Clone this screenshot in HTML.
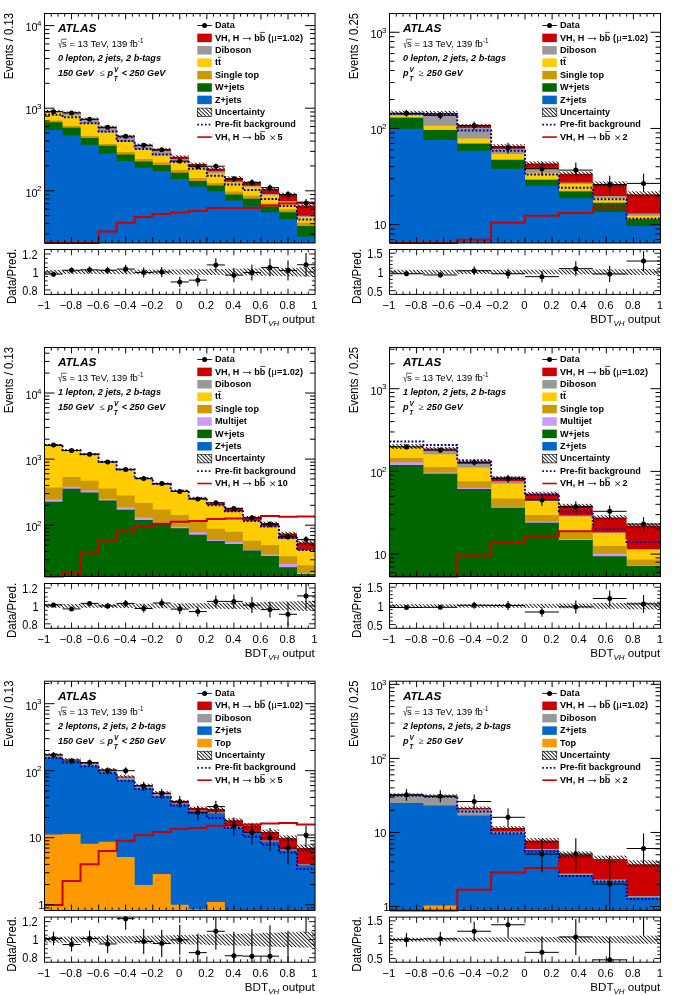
<!DOCTYPE html>
<html lang="en"><head><meta charset="utf-8"><title>ATLAS VH(bb) BDT output distributions</title>
<style>html,body{margin:0;padding:0;background:#fff}svg{display:block}text{font-family:"Liberation Sans",sans-serif}</style>
</head><body>
<svg width="685" height="995" viewBox="0 0 685 995">
<defs><pattern id="hatch" patternUnits="userSpaceOnUse" width="2.7" height="2.7" patternTransform="rotate(45)"><rect width="2.7" height="2.7" fill="none"/><line x1="0" y1="1.35" x2="2.7" y2="1.35" stroke="#000" stroke-width="0.85"/></pattern></defs>
<rect width="685" height="995" fill="#fff"/>
<clipPath id="c0_0"><rect x="44.5" y="13.5" width="270.55" height="229.5"/></clipPath>
<clipPath id="c0_0r"><rect x="44.5" y="249.5" width="270.55" height="44.9"/></clipPath>
<g clip-path="url(#c0_0)">
<path d="M44.5 243 L44.5 111 L62.54 111 L62.54 112.6 L80.57 112.6 L80.57 118.9 L98.61 118.9 L98.61 127 L116.65 127 L116.65 136.4 L134.68 136.4 L134.68 145 L152.72 145 L152.72 149.6 L170.76 149.6 L170.76 156.8 L188.79 156.8 L188.79 164 L206.83 164 L206.83 168.7 L224.87 168.7 L224.87 177.9 L242.9 177.9 L242.9 183 L260.94 183 L260.94 189.1 L278.98 189.1 L278.98 194.6 L297.01 194.6 L297.01 205.5 L315.05 205.5 L315.05 243Z" fill="#cc0000" />
<path d="M44.5 243 L44.5 111.4 L62.54 111.4 L62.54 113 L80.57 113 L80.57 119.5 L98.61 119.5 L98.61 128.2 L116.65 128.2 L116.65 137.4 L134.68 137.4 L134.68 146 L152.72 146 L152.72 150.8 L170.76 150.8 L170.76 159 L188.79 159 L188.79 166 L206.83 166 L206.83 171.2 L224.87 171.2 L224.87 181.4 L242.9 181.4 L242.9 185.8 L260.94 185.8 L260.94 194.1 L278.98 194.1 L278.98 201.1 L297.01 201.1 L297.01 215.7 L315.05 215.7 L315.05 243Z" fill="#999999" />
<path d="M44.5 243 L44.5 112.3 L62.54 112.3 L62.54 115.4 L80.57 115.4 L80.57 124.1 L98.61 124.1 L98.61 132.5 L116.65 132.5 L116.65 142.1 L134.68 142.1 L134.68 149.3 L152.72 149.3 L152.72 155.4 L170.76 155.4 L170.76 161.6 L188.79 161.6 L188.79 167.6 L206.83 167.6 L206.83 173.3 L224.87 173.3 L224.87 182.4 L242.9 182.4 L242.9 186.8 L260.94 186.8 L260.94 195.3 L278.98 195.3 L278.98 202.6 L297.01 202.6 L297.01 216.9 L315.05 216.9 L315.05 243Z" fill="#ffcc00" />
<path d="M44.5 243 L44.5 120.5 L62.54 120.5 L62.54 126.1 L80.57 126.1 L80.57 136 L98.61 136 L98.61 143.9 L116.65 143.9 L116.65 151.9 L134.68 151.9 L134.68 159.1 L152.72 159.1 L152.72 162.6 L170.76 162.6 L170.76 170.1 L188.79 170.1 L188.79 177.9 L206.83 177.9 L206.83 183 L224.87 183 L224.87 191.6 L242.9 191.6 L242.9 195.7 L260.94 195.7 L260.94 203.4 L278.98 203.4 L278.98 209.6 L297.01 209.6 L297.01 222.8 L315.05 222.8 L315.05 243Z" fill="#cc9900" />
<path d="M44.5 243 L44.5 122.3 L62.54 122.3 L62.54 127.8 L80.57 127.8 L80.57 138 L98.61 138 L98.61 145.8 L116.65 145.8 L116.65 154.4 L134.68 154.4 L134.68 161.5 L152.72 161.5 L152.72 165 L170.76 165 L170.76 172.8 L188.79 172.8 L188.79 180.9 L206.83 180.9 L206.83 185.6 L224.87 185.6 L224.87 194.6 L242.9 194.6 L242.9 198.7 L260.94 198.7 L260.94 206.5 L278.98 206.5 L278.98 212.2 L297.01 212.2 L297.01 225.9 L315.05 225.9 L315.05 243Z" fill="#006600" />
<path d="M44.5 243 L44.5 129.9 L62.54 129.9 L62.54 135.6 L80.57 135.6 L80.57 144.8 L98.61 144.8 L98.61 153.4 L116.65 153.4 L116.65 160.9 L134.68 160.9 L134.68 167.7 L152.72 167.7 L152.72 171.1 L170.76 171.1 L170.76 178.9 L188.79 178.9 L188.79 186.5 L206.83 186.5 L206.83 191.2 L224.87 191.2 L224.87 200.4 L242.9 200.4 L242.9 206.5 L260.94 206.5 L260.94 212.2 L278.98 212.2 L278.98 219.2 L297.01 219.2 L297.01 236.5 L315.05 236.5 L315.05 243Z" fill="#0066cc" />
<rect x="44.5" y="109.8" width="18.04" height="2.4" fill="url(#hatch)"/>
<rect x="62.54" y="111.4" width="18.04" height="2.4" fill="url(#hatch)"/>
<rect x="80.57" y="117.7" width="18.04" height="2.4" fill="url(#hatch)"/>
<rect x="98.61" y="125.7" width="18.04" height="2.6" fill="url(#hatch)"/>
<rect x="116.65" y="135.1" width="18.04" height="2.6" fill="url(#hatch)"/>
<rect x="134.68" y="143.6" width="18.04" height="2.8" fill="url(#hatch)"/>
<rect x="152.72" y="148.2" width="18.04" height="2.8" fill="url(#hatch)"/>
<rect x="170.76" y="155.3" width="18.04" height="3" fill="url(#hatch)"/>
<rect x="188.79" y="162.5" width="18.04" height="3" fill="url(#hatch)"/>
<rect x="206.83" y="167.1" width="18.04" height="3.2" fill="url(#hatch)"/>
<rect x="224.87" y="176.2" width="18.04" height="3.4" fill="url(#hatch)"/>
<rect x="242.9" y="181.2" width="18.04" height="3.6" fill="url(#hatch)"/>
<rect x="260.94" y="187.2" width="18.04" height="3.8" fill="url(#hatch)"/>
<rect x="278.98" y="192.6" width="18.04" height="4" fill="url(#hatch)"/>
<rect x="297.01" y="203.2" width="18.04" height="4.6" fill="url(#hatch)"/>
<path d="M44.5 114.8 L62.54 114.8 L62.54 117.3 L80.57 117.3 L80.57 123.3 L98.61 123.3 L98.61 131.6 L116.65 131.6 L116.65 141.1 L134.68 141.1 L134.68 148.9 L152.72 148.9 L152.72 154.4 L170.76 154.4 L170.76 162.1 L188.79 162.1 L188.79 168.7 L206.83 168.7 L206.83 175.8 L224.87 175.8 L224.87 184.6 L242.9 184.6 L242.9 190.1 L260.94 190.1 L260.94 198.9 L278.98 198.9 L278.98 205.9 L297.01 205.9 L297.01 219.4 L315.05 219.4" fill="none" stroke="#0000a0" stroke-width="2.0" stroke-linejoin="miter" stroke-linecap="butt" stroke-dasharray="1.9 1.76"/>
</g>
<clipPath id="c0_0s"><rect x="44.5" y="13.5" width="270.55" height="231"/></clipPath>
<g clip-path="url(#c0_0s)">
<path d="M44.5 242.9 L62.54 242.9 L62.54 242.9 L80.57 242.9 L80.57 242.9 L98.61 242.9 L98.61 231.4 L116.65 231.4 L116.65 222.8 L134.68 222.8 L134.68 217.1 L152.72 217.1 L152.72 214.1 L170.76 214.1 L170.76 212.6 L188.79 212.6 L188.79 211 L206.83 211 L206.83 207.9 L224.87 207.9 L224.87 208.1 L242.9 208.1 L242.9 208.1 L260.94 208.1 L260.94 205.5 L278.98 205.5 L278.98 203.4 L297.01 203.4 L297.01 202.4 L315.05 202.4" fill="none" stroke="#cc0000" stroke-width="2.0" stroke-linejoin="miter" stroke-linecap="butt"/>
</g>
<rect x="44.5" y="13.5" width="270.55" height="229.5" fill="none" stroke="#000" stroke-width="1"/>
<text x="37.5" y="196.6" font-size="10.9" text-anchor="end" fill="#000" >10</text>
<text x="41.5" y="191.3" font-size="8.0" text-anchor="end" fill="#000" >2</text>
<text x="37.5" y="114" font-size="10.9" text-anchor="end" fill="#000" >10</text>
<text x="41.5" y="108.7" font-size="8.0" text-anchor="end" fill="#000" >3</text>
<text x="37.5" y="31.4" font-size="10.9" text-anchor="end" fill="#000" >10</text>
<text x="41.5" y="26.1" font-size="8.0" text-anchor="end" fill="#000" >4</text>
<path d="M51.26 243L51.26 239.9M51.26 13.5L51.26 16.6M58.03 243L58.03 239.9M58.03 13.5L58.03 16.6M64.79 243L64.79 239.9M64.79 13.5L64.79 16.6M71.56 243L71.56 237.1M71.56 13.5L71.56 19.4M78.32 243L78.32 239.9M78.32 13.5L78.32 16.6M85.08 243L85.08 239.9M85.08 13.5L85.08 16.6M91.85 243L91.85 239.9M91.85 13.5L91.85 16.6M98.61 243L98.61 237.1M98.61 13.5L98.61 19.4M105.37 243L105.37 239.9M105.37 13.5L105.37 16.6M112.14 243L112.14 239.9M112.14 13.5L112.14 16.6M118.9 243L118.9 239.9M118.9 13.5L118.9 16.6M125.67 243L125.67 237.1M125.67 13.5L125.67 19.4M132.43 243L132.43 239.9M132.43 13.5L132.43 16.6M139.19 243L139.19 239.9M139.19 13.5L139.19 16.6M145.96 243L145.96 239.9M145.96 13.5L145.96 16.6M152.72 243L152.72 237.1M152.72 13.5L152.72 19.4M159.48 243L159.48 239.9M159.48 13.5L159.48 16.6M166.25 243L166.25 239.9M166.25 13.5L166.25 16.6M173.01 243L173.01 239.9M173.01 13.5L173.01 16.6M179.78 243L179.78 237.1M179.78 13.5L179.78 19.4M186.54 243L186.54 239.9M186.54 13.5L186.54 16.6M193.3 243L193.3 239.9M193.3 13.5L193.3 16.6M200.07 243L200.07 239.9M200.07 13.5L200.07 16.6M206.83 243L206.83 237.1M206.83 13.5L206.83 19.4M213.59 243L213.59 239.9M213.59 13.5L213.59 16.6M220.36 243L220.36 239.9M220.36 13.5L220.36 16.6M227.12 243L227.12 239.9M227.12 13.5L227.12 16.6M233.89 243L233.89 237.1M233.89 13.5L233.89 19.4M240.65 243L240.65 239.9M240.65 13.5L240.65 16.6M247.41 243L247.41 239.9M247.41 13.5L247.41 16.6M254.18 243L254.18 239.9M254.18 13.5L254.18 16.6M260.94 243L260.94 237.1M260.94 13.5L260.94 19.4M267.7 243L267.7 239.9M267.7 13.5L267.7 16.6M274.47 243L274.47 239.9M274.47 13.5L274.47 16.6M281.23 243L281.23 239.9M281.23 13.5L281.23 16.6M288 243L288 237.1M288 13.5L288 19.4M294.76 243L294.76 239.9M294.76 13.5L294.76 16.6M301.52 243L301.52 239.9M301.52 13.5L301.52 16.6M308.29 243L308.29 239.9M308.29 13.5L308.29 16.6M44.5 233.99L49.5 233.99M315.05 233.99L310.05 233.99M44.5 223.67L49.5 223.67M315.05 223.67L310.05 223.67M44.5 215.67L49.5 215.67M315.05 215.67L310.05 215.67M44.5 209.12L49.5 209.12M315.05 209.12L310.05 209.12M44.5 203.59L49.5 203.59M315.05 203.59L310.05 203.59M44.5 198.8L49.5 198.8M315.05 198.8L310.05 198.8M44.5 194.58L49.5 194.58M315.05 194.58L310.05 194.58M44.5 190.8L54.5 190.8M315.05 190.8L305.05 190.8M44.5 165.93L49.5 165.93M315.05 165.93L310.05 165.93M44.5 151.39L49.5 151.39M315.05 151.39L310.05 151.39M44.5 141.07L49.5 141.07M315.05 141.07L310.05 141.07M44.5 133.07L49.5 133.07M315.05 133.07L310.05 133.07M44.5 126.52L49.5 126.52M315.05 126.52L310.05 126.52M44.5 120.99L49.5 120.99M315.05 120.99L310.05 120.99M44.5 116.2L49.5 116.2M315.05 116.2L310.05 116.2M44.5 111.98L49.5 111.98M315.05 111.98L310.05 111.98M44.5 108.2L54.5 108.2M315.05 108.2L305.05 108.2M44.5 83.33L49.5 83.33M315.05 83.33L310.05 83.33M44.5 68.79L49.5 68.79M315.05 68.79L310.05 68.79M44.5 58.47L49.5 58.47M315.05 58.47L310.05 58.47M44.5 50.47L49.5 50.47M315.05 50.47L310.05 50.47M44.5 43.92L49.5 43.92M315.05 43.92L310.05 43.92M44.5 38.39L49.5 38.39M315.05 38.39L310.05 38.39M44.5 33.6L49.5 33.6M315.05 33.6L310.05 33.6M44.5 29.38L49.5 29.38M315.05 29.38L310.05 29.38M44.5 25.6L54.5 25.6M315.05 25.6L305.05 25.6" fill="none" stroke="#000" stroke-width="1.0"/>
<g clip-path="url(#c0_0)">
<line x1="44.5" y1="111.7" x2="62.54" y2="111.7" stroke="#000" stroke-width="1.0" />
<line x1="53.52" y1="110.53" x2="53.52" y2="112.91" stroke="#000" stroke-width="1.1" />
<circle cx="53.52" cy="111.7" r="2.5" fill="#000"/>
<line x1="62.54" y1="112.9" x2="80.57" y2="112.9" stroke="#000" stroke-width="1.0" />
<line x1="71.56" y1="111.71" x2="71.56" y2="114.13" stroke="#000" stroke-width="1.1" />
<circle cx="71.56" cy="112.9" r="2.5" fill="#000"/>
<line x1="80.57" y1="119.2" x2="98.61" y2="119.2" stroke="#000" stroke-width="1.0" />
<line x1="89.59" y1="117.9" x2="89.59" y2="120.55" stroke="#000" stroke-width="1.1" />
<circle cx="89.59" cy="119.2" r="2.5" fill="#000"/>
<line x1="98.61" y1="127.2" x2="116.65" y2="127.2" stroke="#000" stroke-width="1.0" />
<line x1="107.63" y1="125.75" x2="107.63" y2="128.71" stroke="#000" stroke-width="1.1" />
<circle cx="107.63" cy="127.2" r="2.5" fill="#000"/>
<line x1="116.65" y1="136.2" x2="134.68" y2="136.2" stroke="#000" stroke-width="1.0" />
<line x1="125.67" y1="134.56" x2="125.67" y2="137.92" stroke="#000" stroke-width="1.1" />
<circle cx="125.67" cy="136.2" r="2.5" fill="#000"/>
<line x1="134.68" y1="145.2" x2="152.72" y2="145.2" stroke="#000" stroke-width="1.0" />
<line x1="143.7" y1="143.35" x2="143.7" y2="147.15" stroke="#000" stroke-width="1.1" />
<circle cx="143.7" cy="145.2" r="2.5" fill="#000"/>
<line x1="152.72" y1="149.7" x2="170.76" y2="149.7" stroke="#000" stroke-width="1.0" />
<line x1="161.74" y1="147.73" x2="161.74" y2="151.78" stroke="#000" stroke-width="1.1" />
<circle cx="161.74" cy="149.7" r="2.5" fill="#000"/>
<line x1="170.76" y1="161.1" x2="188.79" y2="161.1" stroke="#000" stroke-width="1.0" />
<line x1="179.78" y1="158.8" x2="179.78" y2="163.55" stroke="#000" stroke-width="1.1" />
<circle cx="179.78" cy="161.1" r="2.5" fill="#000"/>
<line x1="188.79" y1="166.6" x2="206.83" y2="166.6" stroke="#000" stroke-width="1.0" />
<line x1="197.81" y1="164.13" x2="197.81" y2="169.26" stroke="#000" stroke-width="1.1" />
<circle cx="197.81" cy="166.6" r="2.5" fill="#000"/>
<line x1="206.83" y1="166.2" x2="224.87" y2="166.2" stroke="#000" stroke-width="1.0" />
<line x1="215.85" y1="163.74" x2="215.85" y2="168.84" stroke="#000" stroke-width="1.1" />
<circle cx="215.85" cy="166.2" r="2.5" fill="#000"/>
<line x1="224.87" y1="178.9" x2="242.9" y2="178.9" stroke="#000" stroke-width="1.0" />
<line x1="233.88" y1="175.98" x2="233.88" y2="182.08" stroke="#000" stroke-width="1.1" />
<circle cx="233.88" cy="178.9" r="2.5" fill="#000"/>
<line x1="242.9" y1="182.4" x2="260.94" y2="182.4" stroke="#000" stroke-width="1.0" />
<line x1="251.92" y1="179.34" x2="251.92" y2="185.74" stroke="#000" stroke-width="1.1" />
<circle cx="251.92" cy="182.4" r="2.5" fill="#000"/>
<line x1="260.94" y1="187.7" x2="278.98" y2="187.7" stroke="#000" stroke-width="1.0" />
<line x1="269.96" y1="184.42" x2="269.96" y2="191.31" stroke="#000" stroke-width="1.1" />
<circle cx="269.96" cy="187.7" r="2.5" fill="#000"/>
<line x1="278.98" y1="194.6" x2="297.01" y2="194.6" stroke="#000" stroke-width="1.0" />
<line x1="288" y1="191" x2="288" y2="198.6" stroke="#000" stroke-width="1.1" />
<circle cx="288" cy="194.6" r="2.5" fill="#000"/>
<line x1="297.01" y1="203" x2="315.05" y2="203" stroke="#000" stroke-width="1.0" />
<line x1="306.03" y1="198.98" x2="306.03" y2="207.53" stroke="#000" stroke-width="1.1" />
<circle cx="306.03" cy="203" r="2.5" fill="#000"/>
</g>
<g clip-path="url(#c0_0r)">
<rect x="44.5" y="269.85" width="18.04" height="4.2" fill="url(#hatch)"/>
<rect x="62.54" y="269.85" width="18.04" height="4.2" fill="url(#hatch)"/>
<rect x="80.57" y="269.85" width="18.04" height="4.2" fill="url(#hatch)"/>
<rect x="98.61" y="269.75" width="18.04" height="4.4" fill="url(#hatch)"/>
<rect x="116.65" y="269.65" width="18.04" height="4.6" fill="url(#hatch)"/>
<rect x="134.68" y="269.55" width="18.04" height="4.8" fill="url(#hatch)"/>
<rect x="152.72" y="269.45" width="18.04" height="5" fill="url(#hatch)"/>
<rect x="170.76" y="269.35" width="18.04" height="5.2" fill="url(#hatch)"/>
<rect x="188.79" y="269.15" width="18.04" height="5.6" fill="url(#hatch)"/>
<rect x="206.83" y="268.95" width="18.04" height="6" fill="url(#hatch)"/>
<rect x="224.87" y="268.75" width="18.04" height="6.4" fill="url(#hatch)"/>
<rect x="242.9" y="268.45" width="18.04" height="7" fill="url(#hatch)"/>
<rect x="260.94" y="268.15" width="18.04" height="7.6" fill="url(#hatch)"/>
<rect x="278.98" y="267.75" width="18.04" height="8.4" fill="url(#hatch)"/>
<rect x="297.01" y="267.35" width="18.04" height="9.2" fill="url(#hatch)"/>
<line x1="44.5" y1="274.15" x2="62.54" y2="274.15" stroke="#000" stroke-width="1.0" />
<line x1="53.52" y1="271.65" x2="53.52" y2="276.65" stroke="#000" stroke-width="1.1" />
<line x1="62.54" y1="270.25" x2="80.57" y2="270.25" stroke="#000" stroke-width="1.0" />
<line x1="71.56" y1="267.25" x2="71.56" y2="273.25" stroke="#000" stroke-width="1.1" />
<line x1="80.57" y1="269.85" x2="98.61" y2="269.85" stroke="#000" stroke-width="1.0" />
<line x1="89.59" y1="266.55" x2="89.59" y2="273.15" stroke="#000" stroke-width="1.1" />
<line x1="98.61" y1="270.25" x2="116.65" y2="270.25" stroke="#000" stroke-width="1.0" />
<line x1="107.63" y1="266.75" x2="107.63" y2="273.75" stroke="#000" stroke-width="1.1" />
<line x1="116.65" y1="269.05" x2="134.68" y2="269.05" stroke="#000" stroke-width="1.0" />
<line x1="125.67" y1="264.75" x2="125.67" y2="273.35" stroke="#000" stroke-width="1.1" />
<line x1="134.68" y1="272.55" x2="152.72" y2="272.55" stroke="#000" stroke-width="1.0" />
<line x1="143.7" y1="267.55" x2="143.7" y2="277.55" stroke="#000" stroke-width="1.1" />
<line x1="152.72" y1="271.95" x2="170.76" y2="271.95" stroke="#000" stroke-width="1.0" />
<line x1="161.74" y1="266.95" x2="161.74" y2="276.95" stroke="#000" stroke-width="1.1" />
<line x1="170.76" y1="281.95" x2="188.79" y2="281.95" stroke="#000" stroke-width="1.0" />
<line x1="179.78" y1="276.95" x2="179.78" y2="286.95" stroke="#000" stroke-width="1.1" />
<line x1="188.79" y1="280.15" x2="206.83" y2="280.15" stroke="#000" stroke-width="1.0" />
<line x1="197.81" y1="274.15" x2="197.81" y2="286.15" stroke="#000" stroke-width="1.1" />
<line x1="206.83" y1="264.95" x2="224.87" y2="264.95" stroke="#000" stroke-width="1.0" />
<line x1="215.85" y1="258.35" x2="215.85" y2="271.55" stroke="#000" stroke-width="1.1" />
<line x1="224.87" y1="275.15" x2="242.9" y2="275.15" stroke="#000" stroke-width="1.0" />
<line x1="233.88" y1="267.95" x2="233.88" y2="282.35" stroke="#000" stroke-width="1.1" />
<line x1="242.9" y1="272.55" x2="260.94" y2="272.55" stroke="#000" stroke-width="1.0" />
<line x1="251.92" y1="264.55" x2="251.92" y2="280.55" stroke="#000" stroke-width="1.1" />
<line x1="260.94" y1="267.45" x2="278.98" y2="267.45" stroke="#000" stroke-width="1.0" />
<line x1="269.96" y1="258.75" x2="269.96" y2="276.15" stroke="#000" stroke-width="1.1" />
<line x1="278.98" y1="270.45" x2="297.01" y2="270.45" stroke="#000" stroke-width="1.0" />
<line x1="288" y1="260.45" x2="288" y2="280.45" stroke="#000" stroke-width="1.1" />
<line x1="297.01" y1="264.75" x2="315.05" y2="264.75" stroke="#000" stroke-width="1.0" />
<line x1="306.03" y1="253.05" x2="306.03" y2="276.45" stroke="#000" stroke-width="1.1" />
</g>
<circle cx="53.52" cy="274.15" r="2.5" fill="#000"/>
<circle cx="71.56" cy="270.25" r="2.5" fill="#000"/>
<circle cx="89.59" cy="269.85" r="2.5" fill="#000"/>
<circle cx="107.63" cy="270.25" r="2.5" fill="#000"/>
<circle cx="125.67" cy="269.05" r="2.5" fill="#000"/>
<circle cx="143.7" cy="272.55" r="2.5" fill="#000"/>
<circle cx="161.74" cy="271.95" r="2.5" fill="#000"/>
<circle cx="179.78" cy="281.95" r="2.5" fill="#000"/>
<circle cx="197.81" cy="280.15" r="2.5" fill="#000"/>
<circle cx="215.85" cy="264.95" r="2.5" fill="#000"/>
<circle cx="233.88" cy="275.15" r="2.5" fill="#000"/>
<circle cx="251.92" cy="272.55" r="2.5" fill="#000"/>
<circle cx="269.96" cy="267.45" r="2.5" fill="#000"/>
<circle cx="288" cy="270.45" r="2.5" fill="#000"/>
<circle cx="306.03" cy="264.75" r="2.5" fill="#000"/>
<rect x="44.5" y="249.5" width="270.55" height="44.9" fill="none" stroke="#000" stroke-width="1"/>
<path d="M51.26 294.4L51.26 291.5M51.26 249.5L51.26 252.4M58.03 294.4L58.03 291.5M58.03 249.5L58.03 252.4M64.79 294.4L64.79 291.5M64.79 249.5L64.79 252.4M71.56 294.4L71.56 288.6M71.56 249.5L71.56 255.3M78.32 294.4L78.32 291.5M78.32 249.5L78.32 252.4M85.08 294.4L85.08 291.5M85.08 249.5L85.08 252.4M91.85 294.4L91.85 291.5M91.85 249.5L91.85 252.4M98.61 294.4L98.61 288.6M98.61 249.5L98.61 255.3M105.37 294.4L105.37 291.5M105.37 249.5L105.37 252.4M112.14 294.4L112.14 291.5M112.14 249.5L112.14 252.4M118.9 294.4L118.9 291.5M118.9 249.5L118.9 252.4M125.67 294.4L125.67 288.6M125.67 249.5L125.67 255.3M132.43 294.4L132.43 291.5M132.43 249.5L132.43 252.4M139.19 294.4L139.19 291.5M139.19 249.5L139.19 252.4M145.96 294.4L145.96 291.5M145.96 249.5L145.96 252.4M152.72 294.4L152.72 288.6M152.72 249.5L152.72 255.3M159.48 294.4L159.48 291.5M159.48 249.5L159.48 252.4M166.25 294.4L166.25 291.5M166.25 249.5L166.25 252.4M173.01 294.4L173.01 291.5M173.01 249.5L173.01 252.4M179.78 294.4L179.78 288.6M179.78 249.5L179.78 255.3M186.54 294.4L186.54 291.5M186.54 249.5L186.54 252.4M193.3 294.4L193.3 291.5M193.3 249.5L193.3 252.4M200.07 294.4L200.07 291.5M200.07 249.5L200.07 252.4M206.83 294.4L206.83 288.6M206.83 249.5L206.83 255.3M213.59 294.4L213.59 291.5M213.59 249.5L213.59 252.4M220.36 294.4L220.36 291.5M220.36 249.5L220.36 252.4M227.12 294.4L227.12 291.5M227.12 249.5L227.12 252.4M233.89 294.4L233.89 288.6M233.89 249.5L233.89 255.3M240.65 294.4L240.65 291.5M240.65 249.5L240.65 252.4M247.41 294.4L247.41 291.5M247.41 249.5L247.41 252.4M254.18 294.4L254.18 291.5M254.18 249.5L254.18 252.4M260.94 294.4L260.94 288.6M260.94 249.5L260.94 255.3M267.7 294.4L267.7 291.5M267.7 249.5L267.7 252.4M274.47 294.4L274.47 291.5M274.47 249.5L274.47 252.4M281.23 294.4L281.23 291.5M281.23 249.5L281.23 252.4M288 294.4L288 288.6M288 249.5L288 255.3M294.76 294.4L294.76 291.5M294.76 249.5L294.76 252.4M301.52 294.4L301.52 291.5M301.52 249.5L301.52 252.4M308.29 294.4L308.29 291.5M308.29 249.5L308.29 252.4M44.5 289.91L50.7 289.91M315.05 289.91L308.85 289.91M44.5 285.42L47.7 285.42M315.05 285.42L311.85 285.42M44.5 280.93L47.7 280.93M315.05 280.93L311.85 280.93M44.5 276.44L47.7 276.44M315.05 276.44L311.85 276.44M44.5 271.95L50.7 271.95M315.05 271.95L308.85 271.95M44.5 267.46L47.7 267.46M315.05 267.46L311.85 267.46M44.5 262.97L47.7 262.97M315.05 262.97L311.85 262.97M44.5 258.48L47.7 258.48M315.05 258.48L311.85 258.48M44.5 253.99L50.7 253.99M315.05 253.99L308.85 253.99" fill="none" stroke="#000" stroke-width="0.9"/>
<text transform="translate(37.5 294.91) scale(0.91 1)" font-size="12.0" text-anchor="end">0.8</text>
<text transform="translate(38.5 276.95) scale(0.91 1)" font-size="12.0" text-anchor="end">1</text>
<text transform="translate(37.5 258.99) scale(0.91 1)" font-size="12.0" text-anchor="end">1.2</text>
<text x="43.9" y="309" font-size="11.4" text-anchor="middle" fill="#000" >−1</text>
<text x="70.96" y="309" font-size="11.4" text-anchor="middle" fill="#000" >−0.8</text>
<text x="98.01" y="309" font-size="11.4" text-anchor="middle" fill="#000" >−0.6</text>
<text x="125.07" y="309" font-size="11.4" text-anchor="middle" fill="#000" >−0.4</text>
<text x="152.12" y="309" font-size="11.4" text-anchor="middle" fill="#000" >−0.2</text>
<text x="179.18" y="309" font-size="11.4" text-anchor="middle" fill="#000" >0</text>
<text x="206.23" y="309" font-size="11.4" text-anchor="middle" fill="#000" >0.2</text>
<text x="233.29" y="309" font-size="11.4" text-anchor="middle" fill="#000" >0.4</text>
<text x="260.34" y="309" font-size="11.4" text-anchor="middle" fill="#000" >0.6</text>
<text x="287.39" y="309" font-size="11.4" text-anchor="middle" fill="#000" >0.8</text>
<text x="314.45" y="309" font-size="11.4" text-anchor="middle" fill="#000" >1</text>
<text x="314.85" y="322.7" font-size="11.7" text-anchor="end" fill="#000" >BDT<tspan font-size="7.9" font-style="italic" dy="2.9">VH</tspan><tspan dy="-2.9"> output</tspan></text>
<text transform="translate(13.3 12.8) rotate(-90) scale(0.92 1)" font-size="12.4" text-anchor="end">Events / 0.13</text>
<text transform="translate(16.2 248.9) rotate(-90) scale(0.895 1)" font-size="12.9" text-anchor="end">Data/Pred.</text>
<text x="57.9" y="32.1" font-size="11.8" font-weight="bold" font-style="italic" text-anchor="start" fill="#000" >ATLAS</text>
<text transform="translate(58.3 47.9) scale(0.62 1)" font-size="11.7">√</text>
<line x1="61.8" y1="39.25" x2="66.9" y2="39.25" stroke="#000" stroke-width="0.6" />
<text x="62" y="47.2" font-size="9.5" text-anchor="start" fill="#000" >s = 13 TeV, 139 fb<tspan font-size="6.3" dy="-4.1">-1</tspan></text>
<text x="57.9" y="60.9" font-size="9.1" font-weight="bold" font-style="italic" text-anchor="start" fill="#000" >0 lepton, 2 jets, 2 b-tags</text>
<text x="57.9" y="75.8" font-size="9.1" font-weight="bold" font-style="italic" text-anchor="start" fill="#000" >150 GeV</text>
<text x="99.5" y="75.8" font-size="9.6" text-anchor="start" fill="#000" style="font-family:'Liberation Serif',serif">≤</text>
<text x="121.7" y="75.8" font-size="9.1" font-weight="bold" font-style="italic" text-anchor="start" fill="#000" >&lt;</text>
<text x="129.4" y="75.8" font-size="9.1" font-weight="bold" font-style="italic" text-anchor="start" fill="#000" >250 GeV</text>
<text x="107.4" y="75.8" font-size="9.1" font-weight="bold" font-style="italic" text-anchor="start" fill="#000" >p</text>
<text x="113.9" y="72.4" font-size="6.5" font-weight="bold" font-style="italic" text-anchor="start" fill="#000" >V</text>
<text x="113.7" y="81.2" font-size="6.5" font-weight="bold" font-style="italic" text-anchor="start" fill="#000" >T</text>
<line x1="197.3" y1="25.5" x2="211.8" y2="25.5" stroke="#000" stroke-width="0.9" />
<circle cx="204.55" cy="25.5" r="2.5" fill="#000"/>
<text x="215" y="28.1" font-size="9.1" font-weight="bold" text-anchor="start" fill="#000" >Data</text>
<rect x="197.3" y="33.65" width="14.5" height="8.5" fill="#cc0000"/>
<text x="215" y="40.5" font-size="9.1" font-weight="bold" text-anchor="start" fill="#000" >VH, H</text>
<text x="239.9" y="40.8" font-size="14.2" text-anchor="start" fill="#222" >→</text>
<text x="254.2" y="40.5" font-size="9.1" font-weight="bold" text-anchor="start" fill="#000" >bb</text>
<line x1="260" y1="32.4" x2="265.1" y2="32.4" stroke="#000" stroke-width="0.7" />
<text x="268.1" y="40.5" font-size="9.1" font-weight="bold" text-anchor="start" fill="#000" >(<tspan font-weight="normal" style="font-family:'Liberation Serif',serif" font-size="10.8">μ</tspan>=1.02)</text>
<rect x="197.3" y="46.05" width="14.5" height="8.5" fill="#999999"/>
<text x="215" y="52.9" font-size="9.1" font-weight="bold" text-anchor="start" fill="#000" >Diboson</text>
<rect x="197.3" y="58.45" width="14.5" height="8.5" fill="#ffcc00"/>
<text x="215" y="65.3" font-size="9.1" font-weight="bold" text-anchor="start" fill="#000" >tt</text>
<line x1="218" y1="57.3" x2="221.2" y2="57.3" stroke="#000" stroke-width="0.7" />
<rect x="197.3" y="70.85" width="14.5" height="8.5" fill="#cc9900"/>
<text x="215" y="77.7" font-size="9.1" font-weight="bold" text-anchor="start" fill="#000" >Single top</text>
<rect x="197.3" y="83.25" width="14.5" height="8.5" fill="#006600"/>
<text x="215" y="90.1" font-size="9.1" font-weight="bold" text-anchor="start" fill="#000" >W+jets</text>
<rect x="197.3" y="95.65" width="14.5" height="8.5" fill="#0066cc"/>
<text x="215" y="102.5" font-size="9.1" font-weight="bold" text-anchor="start" fill="#000" >Z+jets</text>
<rect x="197.3" y="108.1" width="14.5" height="8.4" fill="url(#hatch)" stroke="#000" stroke-width="0.6"/>
<text x="215" y="114.9" font-size="9.1" font-weight="bold" text-anchor="start" fill="#000" >Uncertainty</text>
<line x1="197.3" y1="124.7" x2="211.8" y2="124.7" stroke="#0000a0" stroke-width="1.7" stroke-dasharray="1.7 2.1"/>
<text x="215" y="127.3" font-size="9.1" font-weight="bold" text-anchor="start" fill="#000" >Pre-fit background</text>
<line x1="197.3" y1="137.1" x2="211.8" y2="137.1" stroke="#cc0000" stroke-width="1.6" />
<text x="215" y="139.7" font-size="9.1" font-weight="bold" text-anchor="start" fill="#000" >VH, H</text>
<text x="239.9" y="140" font-size="14.2" text-anchor="start" fill="#222" >→</text>
<text x="254.2" y="139.7" font-size="9.1" font-weight="bold" text-anchor="start" fill="#000" >bb</text>
<line x1="260" y1="131.6" x2="265.1" y2="131.6" stroke="#000" stroke-width="0.7" />
<text x="269.1" y="141.5" font-size="13.0" text-anchor="start" fill="#000" style="font-family:'Liberation Serif',serif">×</text>
<text x="277.6" y="139.7" font-size="9.1" font-weight="bold" text-anchor="start" fill="#000" >5</text>
<clipPath id="c345_0"><rect x="389.5" y="13.5" width="271" height="229.5"/></clipPath>
<clipPath id="c345_0r"><rect x="389.5" y="249.5" width="271" height="44.9"/></clipPath>
<g clip-path="url(#c345_0)">
<path d="M389.5 243 L389.5 113 L423.38 113 L423.38 113.2 L457.25 113.2 L457.25 125.9 L491.12 125.9 L491.12 146 L525 146 L525 163.6 L558.88 163.6 L558.88 173.8 L592.75 173.8 L592.75 184 L626.62 184 L626.62 194.3 L660.5 194.3 L660.5 243Z" fill="#cc0000" />
<path d="M389.5 243 L389.5 113.6 L423.38 113.6 L423.38 114.6 L457.25 114.6 L457.25 127.8 L491.12 127.8 L491.12 148.6 L525 148.6 L525 169 L558.88 169 L558.88 182.6 L592.75 182.6 L592.75 195.9 L626.62 195.9 L626.62 213.6 L660.5 213.6 L660.5 243Z" fill="#999999" />
<path d="M389.5 243 L389.5 115 L423.38 115 L423.38 125.7 L457.25 125.7 L457.25 138.4 L491.12 138.4 L491.12 154 L525 154 L525 172.8 L558.88 172.8 L558.88 184 L592.75 184 L592.75 198.3 L626.62 198.3 L626.62 215.7 L660.5 215.7 L660.5 243Z" fill="#ffcc00" />
<path d="M389.5 243 L389.5 117.5 L423.38 117.5 L423.38 129.7 L457.25 129.7 L457.25 143.2 L491.12 143.2 L491.12 159.3 L525 159.3 L525 179 L558.88 179 L558.88 190.8 L592.75 190.8 L592.75 202.2 L626.62 202.2 L626.62 218.8 L660.5 218.8 L660.5 243Z" fill="#cc9900" />
<path d="M389.5 243 L389.5 117.8 L423.38 117.8 L423.38 130 L457.25 130 L457.25 143.7 L491.12 143.7 L491.12 159.9 L525 159.9 L525 179.9 L558.88 179.9 L558.88 191.6 L592.75 191.6 L592.75 202.9 L626.62 202.9 L626.62 219.5 L660.5 219.5 L660.5 243Z" fill="#006600" />
<path d="M389.5 243 L389.5 128.8 L423.38 128.8 L423.38 139.9 L457.25 139.9 L457.25 150.7 L491.12 150.7 L491.12 168.7 L525 168.7 L525 186.1 L558.88 186.1 L558.88 198.3 L592.75 198.3 L592.75 212 L626.62 212 L626.62 225.9 L660.5 225.9 L660.5 243Z" fill="#0066cc" />
<rect x="389.5" y="110.7" width="33.88" height="4.6" fill="url(#hatch)"/>
<rect x="423.38" y="110.9" width="33.88" height="4.6" fill="url(#hatch)"/>
<rect x="457.25" y="124.1" width="33.88" height="3.6" fill="url(#hatch)"/>
<rect x="491.12" y="144.2" width="33.88" height="3.6" fill="url(#hatch)"/>
<rect x="525" y="161.4" width="33.88" height="4.4" fill="url(#hatch)"/>
<rect x="558.88" y="171.4" width="33.88" height="4.8" fill="url(#hatch)"/>
<rect x="592.75" y="181.4" width="33.88" height="5.2" fill="url(#hatch)"/>
<rect x="626.62" y="191.3" width="33.88" height="6" fill="url(#hatch)"/>
<path d="M389.5 114 L423.38 114 L423.38 114 L457.25 114 L457.25 130.5 L491.12 130.5 L491.12 150.7 L525 150.7 L525 174.4 L558.88 174.4 L558.88 187.7 L592.75 187.7 L592.75 199.3 L626.62 199.3 L626.62 218.8 L660.5 218.8" fill="none" stroke="#0000a0" stroke-width="2.0" stroke-linejoin="miter" stroke-linecap="butt" stroke-dasharray="1.9 1.76"/>
</g>
<clipPath id="c345_0s"><rect x="389.5" y="13.5" width="271" height="231"/></clipPath>
<g clip-path="url(#c345_0s)">
<path d="M389.5 242.9 L423.38 242.9 L423.38 242.9 L457.25 242.9 L457.25 239.8 L491.12 239.8 L491.12 222.8 L525 222.8 L525 215.7 L558.88 215.7 L558.88 213 L592.75 213 L592.75 207.5 L626.62 207.5 L626.62 209.8 L660.5 209.8" fill="none" stroke="#cc0000" stroke-width="2.0" stroke-linejoin="miter" stroke-linecap="butt"/>
</g>
<rect x="389.5" y="13.5" width="271" height="229.5" fill="none" stroke="#000" stroke-width="1"/>
<text x="386.4" y="229.25" font-size="11.0" text-anchor="end" fill="#000" >10</text>
<text x="382.5" y="134.25" font-size="10.9" text-anchor="end" fill="#000" >10</text>
<text x="386.5" y="128.95" font-size="8.0" text-anchor="end" fill="#000" >2</text>
<text x="382.5" y="38.05" font-size="10.9" text-anchor="end" fill="#000" >10</text>
<text x="386.5" y="32.75" font-size="8.0" text-anchor="end" fill="#000" >3</text>
<path d="M396.27 243L396.27 239.9M396.27 13.5L396.27 16.6M403.05 243L403.05 239.9M403.05 13.5L403.05 16.6M409.82 243L409.82 239.9M409.82 13.5L409.82 16.6M416.6 243L416.6 237.1M416.6 13.5L416.6 19.4M423.38 243L423.38 239.9M423.38 13.5L423.38 16.6M430.15 243L430.15 239.9M430.15 13.5L430.15 16.6M436.93 243L436.93 239.9M436.93 13.5L436.93 16.6M443.7 243L443.7 237.1M443.7 13.5L443.7 19.4M450.48 243L450.48 239.9M450.48 13.5L450.48 16.6M457.25 243L457.25 239.9M457.25 13.5L457.25 16.6M464.02 243L464.02 239.9M464.02 13.5L464.02 16.6M470.8 243L470.8 237.1M470.8 13.5L470.8 19.4M477.57 243L477.57 239.9M477.57 13.5L477.57 16.6M484.35 243L484.35 239.9M484.35 13.5L484.35 16.6M491.12 243L491.12 239.9M491.12 13.5L491.12 16.6M497.9 243L497.9 237.1M497.9 13.5L497.9 19.4M504.68 243L504.68 239.9M504.68 13.5L504.68 16.6M511.45 243L511.45 239.9M511.45 13.5L511.45 16.6M518.23 243L518.23 239.9M518.23 13.5L518.23 16.6M525 243L525 237.1M525 13.5L525 19.4M531.77 243L531.77 239.9M531.77 13.5L531.77 16.6M538.55 243L538.55 239.9M538.55 13.5L538.55 16.6M545.33 243L545.33 239.9M545.33 13.5L545.33 16.6M552.1 243L552.1 237.1M552.1 13.5L552.1 19.4M558.88 243L558.88 239.9M558.88 13.5L558.88 16.6M565.65 243L565.65 239.9M565.65 13.5L565.65 16.6M572.42 243L572.42 239.9M572.42 13.5L572.42 16.6M579.2 243L579.2 237.1M579.2 13.5L579.2 19.4M585.98 243L585.98 239.9M585.98 13.5L585.98 16.6M592.75 243L592.75 239.9M592.75 13.5L592.75 16.6M599.52 243L599.52 239.9M599.52 13.5L599.52 16.6M606.3 243L606.3 237.1M606.3 13.5L606.3 19.4M613.08 243L613.08 239.9M613.08 13.5L613.08 16.6M619.85 243L619.85 239.9M619.85 13.5L619.85 16.6M626.62 243L626.62 239.9M626.62 13.5L626.62 16.6M633.4 243L633.4 237.1M633.4 13.5L633.4 19.4M640.17 243L640.17 239.9M640.17 13.5L640.17 16.6M646.95 243L646.95 239.9M646.95 13.5L646.95 16.6M653.73 243L653.73 239.9M653.73 13.5L653.73 16.6M389.5 239.55L394.5 239.55M660.5 239.55L655.5 239.55M389.5 233.97L394.5 233.97M660.5 233.97L655.5 233.97M389.5 229.05L394.5 229.05M660.5 229.05L655.5 229.05M389.5 224.65L399.5 224.65M660.5 224.65L650.5 224.65M389.5 195.69L394.5 195.69M660.5 195.69L655.5 195.69M389.5 178.75L394.5 178.75M660.5 178.75L655.5 178.75M389.5 166.73L394.5 166.73M660.5 166.73L655.5 166.73M389.5 157.41L394.5 157.41M660.5 157.41L655.5 157.41M389.5 149.79L394.5 149.79M660.5 149.79L655.5 149.79M389.5 143.35L394.5 143.35M660.5 143.35L655.5 143.35M389.5 137.77L394.5 137.77M660.5 137.77L655.5 137.77M389.5 132.85L394.5 132.85M660.5 132.85L655.5 132.85M389.5 128.45L399.5 128.45M660.5 128.45L650.5 128.45M389.5 99.49L394.5 99.49M660.5 99.49L655.5 99.49M389.5 82.55L394.5 82.55M660.5 82.55L655.5 82.55M389.5 70.53L394.5 70.53M660.5 70.53L655.5 70.53M389.5 61.21L394.5 61.21M660.5 61.21L655.5 61.21M389.5 53.59L394.5 53.59M660.5 53.59L655.5 53.59M389.5 47.15L394.5 47.15M660.5 47.15L655.5 47.15M389.5 41.57L394.5 41.57M660.5 41.57L655.5 41.57M389.5 36.65L394.5 36.65M660.5 36.65L655.5 36.65M389.5 32.25L399.5 32.25M660.5 32.25L650.5 32.25" fill="none" stroke="#000" stroke-width="1.0"/>
<g clip-path="url(#c345_0)">
<line x1="389.5" y1="113.2" x2="423.38" y2="113.2" stroke="#000" stroke-width="1.0" />
<line x1="406.44" y1="109.86" x2="406.44" y2="116.83" stroke="#000" stroke-width="1.1" />
<circle cx="406.44" cy="113.2" r="2.5" fill="#000"/>
<line x1="423.38" y1="115.5" x2="457.25" y2="115.5" stroke="#000" stroke-width="1.0" />
<line x1="440.31" y1="112.07" x2="440.31" y2="119.24" stroke="#000" stroke-width="1.1" />
<circle cx="440.31" cy="115.5" r="2.5" fill="#000"/>
<line x1="457.25" y1="125.4" x2="491.12" y2="125.4" stroke="#000" stroke-width="1.0" />
<line x1="474.19" y1="121.55" x2="474.19" y2="129.64" stroke="#000" stroke-width="1.1" />
<circle cx="474.19" cy="125.4" r="2.5" fill="#000"/>
<line x1="491.12" y1="147.8" x2="525" y2="147.8" stroke="#000" stroke-width="1.0" />
<line x1="508.06" y1="142.84" x2="508.06" y2="153.43" stroke="#000" stroke-width="1.1" />
<circle cx="508.06" cy="147.8" r="2.5" fill="#000"/>
<line x1="525" y1="168.7" x2="558.88" y2="168.7" stroke="#000" stroke-width="1.0" />
<line x1="541.94" y1="162.6" x2="541.94" y2="175.8" stroke="#000" stroke-width="1.1" />
<circle cx="541.94" cy="168.7" r="2.5" fill="#000"/>
<line x1="558.88" y1="170.1" x2="592.75" y2="170.1" stroke="#000" stroke-width="1.0" />
<line x1="575.81" y1="162.6" x2="575.81" y2="176.9" stroke="#000" stroke-width="1.1" />
<circle cx="575.81" cy="170.1" r="2.5" fill="#000"/>
<line x1="592.75" y1="184.6" x2="626.62" y2="184.6" stroke="#000" stroke-width="1.0" />
<line x1="609.69" y1="175.8" x2="609.69" y2="194.2" stroke="#000" stroke-width="1.1" />
<circle cx="609.69" cy="184.6" r="2.5" fill="#000"/>
<line x1="626.62" y1="183.4" x2="660.5" y2="183.4" stroke="#000" stroke-width="1.0" />
<line x1="643.56" y1="173.8" x2="643.56" y2="192.2" stroke="#000" stroke-width="1.1" />
<circle cx="643.56" cy="183.4" r="2.5" fill="#000"/>
</g>
<g clip-path="url(#c345_0r)">
<rect x="389.5" y="269.85" width="33.88" height="4.2" fill="url(#hatch)"/>
<rect x="423.38" y="269.85" width="33.88" height="4.2" fill="url(#hatch)"/>
<rect x="457.25" y="269.85" width="33.88" height="4.2" fill="url(#hatch)"/>
<rect x="491.12" y="269.75" width="33.88" height="4.4" fill="url(#hatch)"/>
<rect x="525" y="269.65" width="33.88" height="4.6" fill="url(#hatch)"/>
<rect x="558.88" y="269.45" width="33.88" height="5" fill="url(#hatch)"/>
<rect x="592.75" y="269.25" width="33.88" height="5.4" fill="url(#hatch)"/>
<rect x="626.62" y="268.95" width="33.88" height="6" fill="url(#hatch)"/>
<line x1="389.5" y1="273.75" x2="423.38" y2="273.75" stroke="#000" stroke-width="1.0" />
<line x1="406.44" y1="271.55" x2="406.44" y2="275.95" stroke="#000" stroke-width="1.1" />
<line x1="423.38" y1="274.95" x2="457.25" y2="274.95" stroke="#000" stroke-width="1.0" />
<line x1="440.31" y1="272.35" x2="440.31" y2="277.55" stroke="#000" stroke-width="1.1" />
<line x1="457.25" y1="270.75" x2="491.12" y2="270.75" stroke="#000" stroke-width="1.0" />
<line x1="474.19" y1="266.45" x2="474.19" y2="275.05" stroke="#000" stroke-width="1.1" />
<line x1="491.12" y1="273.75" x2="525" y2="273.75" stroke="#000" stroke-width="1.0" />
<line x1="508.06" y1="268.75" x2="508.06" y2="278.75" stroke="#000" stroke-width="1.1" />
<line x1="525" y1="276.65" x2="558.88" y2="276.65" stroke="#000" stroke-width="1.0" />
<line x1="541.94" y1="271.05" x2="541.94" y2="282.25" stroke="#000" stroke-width="1.1" />
<line x1="558.88" y1="268.65" x2="592.75" y2="268.65" stroke="#000" stroke-width="1.0" />
<line x1="575.81" y1="261.25" x2="575.81" y2="276.05" stroke="#000" stroke-width="1.1" />
<line x1="592.75" y1="273.95" x2="626.62" y2="273.95" stroke="#000" stroke-width="1.0" />
<line x1="609.69" y1="265.95" x2="609.69" y2="281.95" stroke="#000" stroke-width="1.1" />
<line x1="626.62" y1="261.05" x2="660.5" y2="261.05" stroke="#000" stroke-width="1.0" />
<line x1="643.56" y1="251.05" x2="643.56" y2="271.05" stroke="#000" stroke-width="1.1" />
</g>
<circle cx="406.44" cy="273.75" r="2.5" fill="#000"/>
<circle cx="440.31" cy="274.95" r="2.5" fill="#000"/>
<circle cx="474.19" cy="270.75" r="2.5" fill="#000"/>
<circle cx="508.06" cy="273.75" r="2.5" fill="#000"/>
<circle cx="541.94" cy="276.65" r="2.5" fill="#000"/>
<circle cx="575.81" cy="268.65" r="2.5" fill="#000"/>
<circle cx="609.69" cy="273.95" r="2.5" fill="#000"/>
<circle cx="643.56" cy="261.05" r="2.5" fill="#000"/>
<rect x="389.5" y="249.5" width="271" height="44.9" fill="none" stroke="#000" stroke-width="1"/>
<path d="M396.27 294.4L396.27 291.5M396.27 249.5L396.27 252.4M403.05 294.4L403.05 291.5M403.05 249.5L403.05 252.4M409.82 294.4L409.82 291.5M409.82 249.5L409.82 252.4M416.6 294.4L416.6 288.6M416.6 249.5L416.6 255.3M423.38 294.4L423.38 291.5M423.38 249.5L423.38 252.4M430.15 294.4L430.15 291.5M430.15 249.5L430.15 252.4M436.93 294.4L436.93 291.5M436.93 249.5L436.93 252.4M443.7 294.4L443.7 288.6M443.7 249.5L443.7 255.3M450.48 294.4L450.48 291.5M450.48 249.5L450.48 252.4M457.25 294.4L457.25 291.5M457.25 249.5L457.25 252.4M464.02 294.4L464.02 291.5M464.02 249.5L464.02 252.4M470.8 294.4L470.8 288.6M470.8 249.5L470.8 255.3M477.57 294.4L477.57 291.5M477.57 249.5L477.57 252.4M484.35 294.4L484.35 291.5M484.35 249.5L484.35 252.4M491.12 294.4L491.12 291.5M491.12 249.5L491.12 252.4M497.9 294.4L497.9 288.6M497.9 249.5L497.9 255.3M504.68 294.4L504.68 291.5M504.68 249.5L504.68 252.4M511.45 294.4L511.45 291.5M511.45 249.5L511.45 252.4M518.23 294.4L518.23 291.5M518.23 249.5L518.23 252.4M525 294.4L525 288.6M525 249.5L525 255.3M531.77 294.4L531.77 291.5M531.77 249.5L531.77 252.4M538.55 294.4L538.55 291.5M538.55 249.5L538.55 252.4M545.33 294.4L545.33 291.5M545.33 249.5L545.33 252.4M552.1 294.4L552.1 288.6M552.1 249.5L552.1 255.3M558.88 294.4L558.88 291.5M558.88 249.5L558.88 252.4M565.65 294.4L565.65 291.5M565.65 249.5L565.65 252.4M572.42 294.4L572.42 291.5M572.42 249.5L572.42 252.4M579.2 294.4L579.2 288.6M579.2 249.5L579.2 255.3M585.98 294.4L585.98 291.5M585.98 249.5L585.98 252.4M592.75 294.4L592.75 291.5M592.75 249.5L592.75 252.4M599.52 294.4L599.52 291.5M599.52 249.5L599.52 252.4M606.3 294.4L606.3 288.6M606.3 249.5L606.3 255.3M613.08 294.4L613.08 291.5M613.08 249.5L613.08 252.4M619.85 294.4L619.85 291.5M619.85 249.5L619.85 252.4M626.62 294.4L626.62 291.5M626.62 249.5L626.62 252.4M633.4 294.4L633.4 288.6M633.4 249.5L633.4 255.3M640.17 294.4L640.17 291.5M640.17 249.5L640.17 252.4M646.95 294.4L646.95 291.5M646.95 249.5L646.95 252.4M653.73 294.4L653.73 291.5M653.73 249.5L653.73 252.4M389.5 290.66L395.7 290.66M660.5 290.66L654.3 290.66M389.5 286.92L392.7 286.92M660.5 286.92L657.3 286.92M389.5 283.17L392.7 283.17M660.5 283.17L657.3 283.17M389.5 279.43L392.7 279.43M660.5 279.43L657.3 279.43M389.5 275.69L392.7 275.69M660.5 275.69L657.3 275.69M389.5 271.95L395.7 271.95M660.5 271.95L654.3 271.95M389.5 268.21L392.7 268.21M660.5 268.21L657.3 268.21M389.5 264.47L392.7 264.47M660.5 264.47L657.3 264.47M389.5 260.73L392.7 260.73M660.5 260.73L657.3 260.73M389.5 256.98L392.7 256.98M660.5 256.98L657.3 256.98M389.5 253.24L395.7 253.24M660.5 253.24L654.3 253.24" fill="none" stroke="#000" stroke-width="0.9"/>
<text transform="translate(382.5 295.66) scale(0.91 1)" font-size="12.0" text-anchor="end">0.5</text>
<text transform="translate(383.5 276.95) scale(0.91 1)" font-size="12.0" text-anchor="end">1</text>
<text transform="translate(382.5 258.24) scale(0.91 1)" font-size="12.0" text-anchor="end">1.5</text>
<text x="388.9" y="309" font-size="11.4" text-anchor="middle" fill="#000" >−1</text>
<text x="416" y="309" font-size="11.4" text-anchor="middle" fill="#000" >−0.8</text>
<text x="443.1" y="309" font-size="11.4" text-anchor="middle" fill="#000" >−0.6</text>
<text x="470.2" y="309" font-size="11.4" text-anchor="middle" fill="#000" >−0.4</text>
<text x="497.3" y="309" font-size="11.4" text-anchor="middle" fill="#000" >−0.2</text>
<text x="524.4" y="309" font-size="11.4" text-anchor="middle" fill="#000" >0</text>
<text x="551.5" y="309" font-size="11.4" text-anchor="middle" fill="#000" >0.2</text>
<text x="578.6" y="309" font-size="11.4" text-anchor="middle" fill="#000" >0.4</text>
<text x="605.7" y="309" font-size="11.4" text-anchor="middle" fill="#000" >0.6</text>
<text x="632.8" y="309" font-size="11.4" text-anchor="middle" fill="#000" >0.8</text>
<text x="659.9" y="309" font-size="11.4" text-anchor="middle" fill="#000" >1</text>
<text x="660.3" y="322.7" font-size="11.7" text-anchor="end" fill="#000" >BDT<tspan font-size="7.9" font-style="italic" dy="2.9">VH</tspan><tspan dy="-2.9"> output</tspan></text>
<text transform="translate(358.3 12.8) rotate(-90) scale(0.92 1)" font-size="12.4" text-anchor="end">Events / 0.25</text>
<text transform="translate(361.2 248.9) rotate(-90) scale(0.895 1)" font-size="12.9" text-anchor="end">Data/Pred.</text>
<text x="402.9" y="32.1" font-size="11.8" font-weight="bold" font-style="italic" text-anchor="start" fill="#000" >ATLAS</text>
<text transform="translate(403.3 47.9) scale(0.62 1)" font-size="11.7">√</text>
<line x1="406.8" y1="39.25" x2="411.9" y2="39.25" stroke="#000" stroke-width="0.6" />
<text x="407" y="47.2" font-size="9.5" text-anchor="start" fill="#000" >s = 13 TeV, 139 fb<tspan font-size="6.3" dy="-4.1">-1</tspan></text>
<text x="402.9" y="60.9" font-size="9.1" font-weight="bold" font-style="italic" text-anchor="start" fill="#000" >0 lepton, 2 jets, 2 b-tags</text>
<text x="418.5" y="75.8" font-size="9.6" text-anchor="start" fill="#000" style="font-family:'Liberation Serif',serif">≥</text>
<text x="426.8" y="75.8" font-size="9.1" font-weight="bold" font-style="italic" text-anchor="start" fill="#000" >250 GeV</text>
<text x="402.9" y="75.8" font-size="9.1" font-weight="bold" font-style="italic" text-anchor="start" fill="#000" >p</text>
<text x="409.4" y="72.4" font-size="6.5" font-weight="bold" font-style="italic" text-anchor="start" fill="#000" >V</text>
<text x="409.2" y="81.2" font-size="6.5" font-weight="bold" font-style="italic" text-anchor="start" fill="#000" >T</text>
<line x1="542.3" y1="25.5" x2="556.8" y2="25.5" stroke="#000" stroke-width="0.9" />
<circle cx="549.55" cy="25.5" r="2.5" fill="#000"/>
<text x="560" y="28.1" font-size="9.1" font-weight="bold" text-anchor="start" fill="#000" >Data</text>
<rect x="542.3" y="33.65" width="14.5" height="8.5" fill="#cc0000"/>
<text x="560" y="40.5" font-size="9.1" font-weight="bold" text-anchor="start" fill="#000" >VH, H</text>
<text x="584.9" y="40.8" font-size="14.2" text-anchor="start" fill="#222" >→</text>
<text x="599.2" y="40.5" font-size="9.1" font-weight="bold" text-anchor="start" fill="#000" >bb</text>
<line x1="605" y1="32.4" x2="610.1" y2="32.4" stroke="#000" stroke-width="0.7" />
<text x="613.1" y="40.5" font-size="9.1" font-weight="bold" text-anchor="start" fill="#000" >(<tspan font-weight="normal" style="font-family:'Liberation Serif',serif" font-size="10.8">μ</tspan>=1.02)</text>
<rect x="542.3" y="46.05" width="14.5" height="8.5" fill="#999999"/>
<text x="560" y="52.9" font-size="9.1" font-weight="bold" text-anchor="start" fill="#000" >Diboson</text>
<rect x="542.3" y="58.45" width="14.5" height="8.5" fill="#ffcc00"/>
<text x="560" y="65.3" font-size="9.1" font-weight="bold" text-anchor="start" fill="#000" >tt</text>
<line x1="563" y1="57.3" x2="566.2" y2="57.3" stroke="#000" stroke-width="0.7" />
<rect x="542.3" y="70.85" width="14.5" height="8.5" fill="#cc9900"/>
<text x="560" y="77.7" font-size="9.1" font-weight="bold" text-anchor="start" fill="#000" >Single top</text>
<rect x="542.3" y="83.25" width="14.5" height="8.5" fill="#006600"/>
<text x="560" y="90.1" font-size="9.1" font-weight="bold" text-anchor="start" fill="#000" >W+jets</text>
<rect x="542.3" y="95.65" width="14.5" height="8.5" fill="#0066cc"/>
<text x="560" y="102.5" font-size="9.1" font-weight="bold" text-anchor="start" fill="#000" >Z+jets</text>
<rect x="542.3" y="108.1" width="14.5" height="8.4" fill="url(#hatch)" stroke="#000" stroke-width="0.6"/>
<text x="560" y="114.9" font-size="9.1" font-weight="bold" text-anchor="start" fill="#000" >Uncertainty</text>
<line x1="542.3" y1="124.7" x2="556.8" y2="124.7" stroke="#0000a0" stroke-width="1.7" stroke-dasharray="1.7 2.1"/>
<text x="560" y="127.3" font-size="9.1" font-weight="bold" text-anchor="start" fill="#000" >Pre-fit background</text>
<line x1="542.3" y1="137.1" x2="556.8" y2="137.1" stroke="#cc0000" stroke-width="1.6" />
<text x="560" y="139.7" font-size="9.1" font-weight="bold" text-anchor="start" fill="#000" >VH, H</text>
<text x="584.9" y="140" font-size="14.2" text-anchor="start" fill="#222" >→</text>
<text x="599.2" y="139.7" font-size="9.1" font-weight="bold" text-anchor="start" fill="#000" >bb</text>
<line x1="605" y1="131.6" x2="610.1" y2="131.6" stroke="#000" stroke-width="0.7" />
<text x="614.1" y="141.5" font-size="13.0" text-anchor="start" fill="#000" style="font-family:'Liberation Serif',serif">×</text>
<text x="622.6" y="139.7" font-size="9.1" font-weight="bold" text-anchor="start" fill="#000" >2</text>
<clipPath id="c0_334"><rect x="44.5" y="347.5" width="270.55" height="229"/></clipPath>
<clipPath id="c0_334r"><rect x="44.5" y="583.5" width="270.55" height="44.8"/></clipPath>
<g clip-path="url(#c0_334)">
<path d="M44.5 576.5 L44.5 445.1 L62.54 445.1 L62.54 450.2 L80.57 450.2 L80.57 454.2 L98.61 454.2 L98.61 461.8 L116.65 461.8 L116.65 469.4 L134.68 469.4 L134.68 478.2 L152.72 478.2 L152.72 483.7 L170.76 483.7 L170.76 490.8 L188.79 490.8 L188.79 498 L206.83 498 L206.83 503.3 L224.87 503.3 L224.87 508.8 L242.9 508.8 L242.9 517.4 L260.94 517.4 L260.94 523 L278.98 523 L278.98 533.4 L297.01 533.4 L297.01 542.6 L315.05 542.6 L315.05 576.5Z" fill="#cc0000" />
<path d="M44.5 576.5 L44.5 445.5 L62.54 445.5 L62.54 450.6 L80.57 450.6 L80.57 454.6 L98.61 454.6 L98.61 462.2 L116.65 462.2 L116.65 469.9 L134.68 469.9 L134.68 478.7 L152.72 478.7 L152.72 484.3 L170.76 484.3 L170.76 491.5 L188.79 491.5 L188.79 499.1 L206.83 499.1 L206.83 505 L224.87 505 L224.87 511.4 L242.9 511.4 L242.9 520.8 L260.94 520.8 L260.94 526.6 L278.98 526.6 L278.98 538.5 L297.01 538.5 L297.01 550 L315.05 550 L315.05 576.5Z" fill="#999999" />
<path d="M44.5 576.5 L44.5 445.9 L62.54 445.9 L62.54 451 L80.57 451 L80.57 455 L98.61 455 L98.61 462.6 L116.65 462.6 L116.65 470.3 L134.68 470.3 L134.68 479.2 L152.72 479.2 L152.72 484.8 L170.76 484.8 L170.76 492 L188.79 492 L188.79 499.6 L206.83 499.6 L206.83 505.5 L224.87 505.5 L224.87 511.9 L242.9 511.9 L242.9 521.3 L260.94 521.3 L260.94 527.1 L278.98 527.1 L278.98 539 L297.01 539 L297.01 550.5 L315.05 550.5 L315.05 576.5Z" fill="#ffcc00" />
<path d="M44.5 576.5 L44.5 487.4 L62.54 487.4 L62.54 477.1 L80.57 477.1 L80.57 480.8 L98.61 480.8 L98.61 488.4 L116.65 488.4 L116.65 495.5 L134.68 495.5 L134.68 503.1 L152.72 503.1 L152.72 509.4 L170.76 509.4 L170.76 514.9 L188.79 514.9 L188.79 521.7 L206.83 521.7 L206.83 528.8 L224.87 528.8 L224.87 531.7 L242.9 531.7 L242.9 540.8 L260.94 540.8 L260.94 545.1 L278.98 545.1 L278.98 556.3 L297.01 556.3 L297.01 565.3 L315.05 565.3 L315.05 576.5Z" fill="#cc9900" />
<path d="M44.5 576.5 L44.5 499.6 L62.54 499.6 L62.54 486.7 L80.57 486.7 L80.57 490.4 L98.61 490.4 L98.61 499 L116.65 499 L116.65 507.2 L134.68 507.2 L134.68 517.4 L152.72 517.4 L152.72 522.5 L170.76 522.5 L170.76 526.8 L188.79 526.8 L188.79 532.3 L206.83 532.3 L206.83 540 L224.87 540 L224.87 541.9 L242.9 541.9 L242.9 550 L260.94 550 L260.94 554.5 L278.98 554.5 L278.98 563.9 L297.01 563.9 L297.01 572.7 L315.05 572.7 L315.05 576.5Z" fill="#cc99ff" />
<path d="M44.5 576.5 L44.5 501.7 L62.54 501.7 L62.54 488.8 L80.57 488.8 L80.57 492.5 L98.61 492.5 L98.61 500.4 L116.65 500.4 L116.65 509.8 L134.68 509.8 L134.68 520.1 L152.72 520.1 L152.72 523.1 L170.76 523.1 L170.76 528.2 L188.79 528.2 L188.79 534.8 L206.83 534.8 L206.83 540.9 L224.87 540.9 L224.87 544 L242.9 544 L242.9 550.5 L260.94 550.5 L260.94 556 L278.98 556 L278.98 567.3 L297.01 567.3 L297.01 573.9 L315.05 573.9 L315.05 576.5Z" fill="#006600" />
<path d="M44.5 576.5 L44.5 576.5 L62.54 576.5 L62.54 576.5 L80.57 576.5 L80.57 576.4 L98.61 576.4 L98.61 576.5 L116.65 576.5 L116.65 576.5 L134.68 576.5 L134.68 576.5 L152.72 576.5 L152.72 576.5 L170.76 576.5 L170.76 576.5 L188.79 576.5 L188.79 576.5 L206.83 576.5 L206.83 576.5 L224.87 576.5 L224.87 576.5 L242.9 576.5 L242.9 576.5 L260.94 576.5 L260.94 576.5 L278.98 576.5 L278.98 576.5 L297.01 576.5 L297.01 576.5 L315.05 576.5 L315.05 576.5Z" fill="#0066cc" />
<rect x="44.5" y="444.3" width="18.04" height="1.6" fill="url(#hatch)"/>
<rect x="62.54" y="449.4" width="18.04" height="1.6" fill="url(#hatch)"/>
<rect x="80.57" y="453.4" width="18.04" height="1.6" fill="url(#hatch)"/>
<rect x="98.61" y="461" width="18.04" height="1.6" fill="url(#hatch)"/>
<rect x="116.65" y="468.5" width="18.04" height="1.8" fill="url(#hatch)"/>
<rect x="134.68" y="477.3" width="18.04" height="1.8" fill="url(#hatch)"/>
<rect x="152.72" y="482.7" width="18.04" height="2" fill="url(#hatch)"/>
<rect x="170.76" y="489.8" width="18.04" height="2" fill="url(#hatch)"/>
<rect x="188.79" y="496.9" width="18.04" height="2.2" fill="url(#hatch)"/>
<rect x="206.83" y="502.1" width="18.04" height="2.4" fill="url(#hatch)"/>
<rect x="224.87" y="507.5" width="18.04" height="2.6" fill="url(#hatch)"/>
<rect x="242.9" y="516" width="18.04" height="2.8" fill="url(#hatch)"/>
<rect x="260.94" y="521.5" width="18.04" height="3" fill="url(#hatch)"/>
<rect x="278.98" y="531.7" width="18.04" height="3.4" fill="url(#hatch)"/>
<rect x="297.01" y="540.6" width="18.04" height="4" fill="url(#hatch)"/>
<path d="M44.5 445.1 L62.54 445.1 L62.54 450.2 L80.57 450.2 L80.57 454.2 L98.61 454.2 L98.61 461.8 L116.65 461.8 L116.65 469.4 L134.68 469.4 L134.68 478.2 L152.72 478.2 L152.72 483.7 L170.76 483.7 L170.76 490.8 L188.79 490.8 L188.79 498.6 L206.83 498.6 L206.83 505.3 L224.87 505.3 L224.87 511.3 L242.9 511.3 L242.9 521 L260.94 521 L260.94 526.4 L278.98 526.4 L278.98 538.1 L297.01 538.1 L297.01 550.1 L315.05 550.1" fill="none" stroke="#0000a0" stroke-width="2.0" stroke-linejoin="miter" stroke-linecap="butt" stroke-dasharray="1.9 1.76"/>
</g>
<clipPath id="c0_334s"><rect x="44.5" y="347.5" width="270.55" height="230.5"/></clipPath>
<g clip-path="url(#c0_334s)">
<path d="M44.5 576.4 L62.54 576.4 L62.54 573.2 L80.57 573.2 L80.57 553.2 L98.61 553.2 L98.61 539.9 L116.65 539.9 L116.65 531.3 L134.68 531.3 L134.68 526.6 L152.72 526.6 L152.72 523.8 L170.76 523.8 L170.76 521.8 L188.79 521.8 L188.79 521.1 L206.83 521.1 L206.83 519 L224.87 519 L224.87 518.5 L242.9 518.5 L242.9 518.7 L260.94 518.7 L260.94 515.9 L278.98 515.9 L278.98 516.8 L297.01 516.8 L297.01 516.5 L315.05 516.5" fill="none" stroke="#cc0000" stroke-width="2.0" stroke-linejoin="miter" stroke-linecap="butt"/>
</g>
<rect x="44.5" y="347.5" width="270.55" height="229" fill="none" stroke="#000" stroke-width="1"/>
<text x="37.5" y="531" font-size="10.9" text-anchor="end" fill="#000" >10</text>
<text x="41.5" y="525.7" font-size="8.0" text-anchor="end" fill="#000" >2</text>
<text x="37.5" y="464.9" font-size="10.9" text-anchor="end" fill="#000" >10</text>
<text x="41.5" y="459.6" font-size="8.0" text-anchor="end" fill="#000" >3</text>
<text x="37.5" y="398.8" font-size="10.9" text-anchor="end" fill="#000" >10</text>
<text x="41.5" y="393.5" font-size="8.0" text-anchor="end" fill="#000" >4</text>
<path d="M51.26 576.5L51.26 573.4M51.26 347.5L51.26 350.6M58.03 576.5L58.03 573.4M58.03 347.5L58.03 350.6M64.79 576.5L64.79 573.4M64.79 347.5L64.79 350.6M71.56 576.5L71.56 570.6M71.56 347.5L71.56 353.4M78.32 576.5L78.32 573.4M78.32 347.5L78.32 350.6M85.08 576.5L85.08 573.4M85.08 347.5L85.08 350.6M91.85 576.5L91.85 573.4M91.85 347.5L91.85 350.6M98.61 576.5L98.61 570.6M98.61 347.5L98.61 353.4M105.37 576.5L105.37 573.4M105.37 347.5L105.37 350.6M112.14 576.5L112.14 573.4M112.14 347.5L112.14 350.6M118.9 576.5L118.9 573.4M118.9 347.5L118.9 350.6M125.67 576.5L125.67 570.6M125.67 347.5L125.67 353.4M132.43 576.5L132.43 573.4M132.43 347.5L132.43 350.6M139.19 576.5L139.19 573.4M139.19 347.5L139.19 350.6M145.96 576.5L145.96 573.4M145.96 347.5L145.96 350.6M152.72 576.5L152.72 570.6M152.72 347.5L152.72 353.4M159.48 576.5L159.48 573.4M159.48 347.5L159.48 350.6M166.25 576.5L166.25 573.4M166.25 347.5L166.25 350.6M173.01 576.5L173.01 573.4M173.01 347.5L173.01 350.6M179.78 576.5L179.78 570.6M179.78 347.5L179.78 353.4M186.54 576.5L186.54 573.4M186.54 347.5L186.54 350.6M193.3 576.5L193.3 573.4M193.3 347.5L193.3 350.6M200.07 576.5L200.07 573.4M200.07 347.5L200.07 350.6M206.83 576.5L206.83 570.6M206.83 347.5L206.83 353.4M213.59 576.5L213.59 573.4M213.59 347.5L213.59 350.6M220.36 576.5L220.36 573.4M220.36 347.5L220.36 350.6M227.12 576.5L227.12 573.4M227.12 347.5L227.12 350.6M233.89 576.5L233.89 570.6M233.89 347.5L233.89 353.4M240.65 576.5L240.65 573.4M240.65 347.5L240.65 350.6M247.41 576.5L247.41 573.4M247.41 347.5L247.41 350.6M254.18 576.5L254.18 573.4M254.18 347.5L254.18 350.6M260.94 576.5L260.94 570.6M260.94 347.5L260.94 353.4M267.7 576.5L267.7 573.4M267.7 347.5L267.7 350.6M274.47 576.5L274.47 573.4M274.47 347.5L274.47 350.6M281.23 576.5L281.23 573.4M281.23 347.5L281.23 350.6M288 576.5L288 570.6M288 347.5L288 353.4M294.76 576.5L294.76 573.4M294.76 347.5L294.76 350.6M301.52 576.5L301.52 573.4M301.52 347.5L301.52 350.6M308.29 576.5L308.29 573.4M308.29 347.5L308.29 350.6M44.5 571.4L49.5 571.4M315.05 571.4L310.05 571.4M44.5 559.76L49.5 559.76M315.05 559.76L310.05 559.76M44.5 551.5L49.5 551.5M315.05 551.5L310.05 551.5M44.5 545.1L49.5 545.1M315.05 545.1L310.05 545.1M44.5 539.86L49.5 539.86M315.05 539.86L310.05 539.86M44.5 535.44L49.5 535.44M315.05 535.44L310.05 535.44M44.5 531.61L49.5 531.61M315.05 531.61L310.05 531.61M44.5 528.22L49.5 528.22M315.05 528.22L310.05 528.22M44.5 525.2L54.5 525.2M315.05 525.2L305.05 525.2M44.5 505.3L49.5 505.3M315.05 505.3L310.05 505.3M44.5 493.66L49.5 493.66M315.05 493.66L310.05 493.66M44.5 485.4L49.5 485.4M315.05 485.4L310.05 485.4M44.5 479L49.5 479M315.05 479L310.05 479M44.5 473.76L49.5 473.76M315.05 473.76L310.05 473.76M44.5 469.34L49.5 469.34M315.05 469.34L310.05 469.34M44.5 465.51L49.5 465.51M315.05 465.51L310.05 465.51M44.5 462.12L49.5 462.12M315.05 462.12L310.05 462.12M44.5 459.1L54.5 459.1M315.05 459.1L305.05 459.1M44.5 439.2L49.5 439.2M315.05 439.2L310.05 439.2M44.5 427.56L49.5 427.56M315.05 427.56L310.05 427.56M44.5 419.3L49.5 419.3M315.05 419.3L310.05 419.3M44.5 412.9L49.5 412.9M315.05 412.9L310.05 412.9M44.5 407.66L49.5 407.66M315.05 407.66L310.05 407.66M44.5 403.24L49.5 403.24M315.05 403.24L310.05 403.24M44.5 399.41L49.5 399.41M315.05 399.41L310.05 399.41M44.5 396.02L49.5 396.02M315.05 396.02L310.05 396.02M44.5 393L54.5 393M315.05 393L305.05 393M44.5 373.1L49.5 373.1M315.05 373.1L310.05 373.1M44.5 361.46L49.5 361.46M315.05 361.46L310.05 361.46M44.5 353.2L49.5 353.2M315.05 353.2L310.05 353.2" fill="none" stroke="#000" stroke-width="1.0"/>
<g clip-path="url(#c0_334)">
<line x1="44.5" y1="445.1" x2="62.54" y2="445.1" stroke="#000" stroke-width="1.0" />
<line x1="53.52" y1="444.4" x2="53.52" y2="445.82" stroke="#000" stroke-width="1.1" />
<circle cx="53.52" cy="445.1" r="2.5" fill="#000"/>
<line x1="62.54" y1="450.5" x2="80.57" y2="450.5" stroke="#000" stroke-width="1.0" />
<line x1="71.56" y1="449.73" x2="71.56" y2="451.29" stroke="#000" stroke-width="1.1" />
<circle cx="71.56" cy="450.5" r="2.5" fill="#000"/>
<line x1="80.57" y1="454.2" x2="98.61" y2="454.2" stroke="#000" stroke-width="1.0" />
<line x1="89.59" y1="453.38" x2="89.59" y2="455.05" stroke="#000" stroke-width="1.1" />
<circle cx="89.59" cy="454.2" r="2.5" fill="#000"/>
<line x1="98.61" y1="462" x2="116.65" y2="462" stroke="#000" stroke-width="1.0" />
<line x1="107.63" y1="461.06" x2="107.63" y2="462.97" stroke="#000" stroke-width="1.1" />
<circle cx="107.63" cy="462" r="2.5" fill="#000"/>
<line x1="116.65" y1="469.4" x2="134.68" y2="469.4" stroke="#000" stroke-width="1.0" />
<line x1="125.67" y1="468.33" x2="125.67" y2="470.51" stroke="#000" stroke-width="1.1" />
<circle cx="125.67" cy="469.4" r="2.5" fill="#000"/>
<line x1="134.68" y1="478.6" x2="152.72" y2="478.6" stroke="#000" stroke-width="1.0" />
<line x1="143.7" y1="477.35" x2="143.7" y2="479.9" stroke="#000" stroke-width="1.1" />
<circle cx="143.7" cy="478.6" r="2.5" fill="#000"/>
<line x1="152.72" y1="483.5" x2="170.76" y2="483.5" stroke="#000" stroke-width="1.0" />
<line x1="161.74" y1="482.14" x2="161.74" y2="484.92" stroke="#000" stroke-width="1.1" />
<circle cx="161.74" cy="483.5" r="2.5" fill="#000"/>
<line x1="170.76" y1="491.4" x2="188.79" y2="491.4" stroke="#000" stroke-width="1.0" />
<line x1="179.78" y1="489.85" x2="179.78" y2="493.04" stroke="#000" stroke-width="1.1" />
<circle cx="179.78" cy="491.4" r="2.5" fill="#000"/>
<line x1="188.79" y1="499" x2="206.83" y2="499" stroke="#000" stroke-width="1.0" />
<line x1="197.81" y1="497.24" x2="197.81" y2="500.88" stroke="#000" stroke-width="1.1" />
<circle cx="197.81" cy="499" r="2.5" fill="#000"/>
<line x1="206.83" y1="502.7" x2="224.87" y2="502.7" stroke="#000" stroke-width="1.0" />
<line x1="215.85" y1="500.82" x2="215.85" y2="504.71" stroke="#000" stroke-width="1.1" />
<circle cx="215.85" cy="502.7" r="2.5" fill="#000"/>
<line x1="224.87" y1="508.4" x2="242.9" y2="508.4" stroke="#000" stroke-width="1.0" />
<line x1="233.88" y1="506.33" x2="233.88" y2="510.63" stroke="#000" stroke-width="1.1" />
<circle cx="233.88" cy="508.4" r="2.5" fill="#000"/>
<line x1="242.9" y1="517.8" x2="260.94" y2="517.8" stroke="#000" stroke-width="1.0" />
<line x1="251.92" y1="515.38" x2="251.92" y2="520.44" stroke="#000" stroke-width="1.1" />
<circle cx="251.92" cy="517.8" r="2.5" fill="#000"/>
<line x1="260.94" y1="524.2" x2="278.98" y2="524.2" stroke="#000" stroke-width="1.0" />
<line x1="269.96" y1="521.51" x2="269.96" y2="527.17" stroke="#000" stroke-width="1.1" />
<circle cx="269.96" cy="524.2" r="2.5" fill="#000"/>
<line x1="278.98" y1="536.4" x2="297.01" y2="536.4" stroke="#000" stroke-width="1.0" />
<line x1="288" y1="533.11" x2="288" y2="540.12" stroke="#000" stroke-width="1.1" />
<circle cx="288" cy="536.4" r="2.5" fill="#000"/>
<line x1="297.01" y1="539.6" x2="315.05" y2="539.6" stroke="#000" stroke-width="1.0" />
<line x1="306.03" y1="536.13" x2="306.03" y2="543.55" stroke="#000" stroke-width="1.1" />
<circle cx="306.03" cy="539.6" r="2.5" fill="#000"/>
</g>
<g clip-path="url(#c0_334r)">
<rect x="44.5" y="603.9" width="18.04" height="4" fill="url(#hatch)"/>
<rect x="62.54" y="603.9" width="18.04" height="4" fill="url(#hatch)"/>
<rect x="80.57" y="603.9" width="18.04" height="4" fill="url(#hatch)"/>
<rect x="98.61" y="603.8" width="18.04" height="4.2" fill="url(#hatch)"/>
<rect x="116.65" y="603.7" width="18.04" height="4.4" fill="url(#hatch)"/>
<rect x="134.68" y="603.6" width="18.04" height="4.6" fill="url(#hatch)"/>
<rect x="152.72" y="603.5" width="18.04" height="4.8" fill="url(#hatch)"/>
<rect x="170.76" y="603.4" width="18.04" height="5" fill="url(#hatch)"/>
<rect x="188.79" y="603.2" width="18.04" height="5.4" fill="url(#hatch)"/>
<rect x="206.83" y="603" width="18.04" height="5.8" fill="url(#hatch)"/>
<rect x="224.87" y="602.7" width="18.04" height="6.4" fill="url(#hatch)"/>
<rect x="242.9" y="602.3" width="18.04" height="7.2" fill="url(#hatch)"/>
<rect x="260.94" y="601.9" width="18.04" height="8" fill="url(#hatch)"/>
<rect x="278.98" y="601.4" width="18.04" height="9" fill="url(#hatch)"/>
<rect x="297.01" y="600.9" width="18.04" height="10" fill="url(#hatch)"/>
<line x1="44.5" y1="604.9" x2="62.54" y2="604.9" stroke="#000" stroke-width="1.0" />
<line x1="53.52" y1="603.4" x2="53.52" y2="606.4" stroke="#000" stroke-width="1.1" />
<line x1="62.54" y1="608.9" x2="80.57" y2="608.9" stroke="#000" stroke-width="1.0" />
<line x1="71.56" y1="606.9" x2="71.56" y2="610.9" stroke="#000" stroke-width="1.1" />
<line x1="80.57" y1="603.4" x2="98.61" y2="603.4" stroke="#000" stroke-width="1.0" />
<line x1="89.59" y1="600.9" x2="89.59" y2="605.9" stroke="#000" stroke-width="1.1" />
<line x1="98.61" y1="605.9" x2="116.65" y2="605.9" stroke="#000" stroke-width="1.0" />
<line x1="107.63" y1="602.9" x2="107.63" y2="608.9" stroke="#000" stroke-width="1.1" />
<line x1="116.65" y1="603.4" x2="134.68" y2="603.4" stroke="#000" stroke-width="1.0" />
<line x1="125.67" y1="599.9" x2="125.67" y2="606.9" stroke="#000" stroke-width="1.1" />
<line x1="134.68" y1="608.5" x2="152.72" y2="608.5" stroke="#000" stroke-width="1.0" />
<line x1="143.7" y1="604.5" x2="143.7" y2="612.5" stroke="#000" stroke-width="1.1" />
<line x1="152.72" y1="603" x2="170.76" y2="603" stroke="#000" stroke-width="1.0" />
<line x1="161.74" y1="598.5" x2="161.74" y2="607.5" stroke="#000" stroke-width="1.1" />
<line x1="170.76" y1="609.1" x2="188.79" y2="609.1" stroke="#000" stroke-width="1.0" />
<line x1="179.78" y1="604.1" x2="179.78" y2="614.1" stroke="#000" stroke-width="1.1" />
<line x1="188.79" y1="611.6" x2="206.83" y2="611.6" stroke="#000" stroke-width="1.0" />
<line x1="197.81" y1="606.6" x2="197.81" y2="616.6" stroke="#000" stroke-width="1.1" />
<line x1="206.83" y1="601.4" x2="224.87" y2="601.4" stroke="#000" stroke-width="1.0" />
<line x1="215.85" y1="595.4" x2="215.85" y2="607.4" stroke="#000" stroke-width="1.1" />
<line x1="224.87" y1="601.4" x2="242.9" y2="601.4" stroke="#000" stroke-width="1.0" />
<line x1="233.88" y1="594.4" x2="233.88" y2="608.4" stroke="#000" stroke-width="1.1" />
<line x1="242.9" y1="605.1" x2="260.94" y2="605.1" stroke="#000" stroke-width="1.0" />
<line x1="251.92" y1="597.1" x2="251.92" y2="613.1" stroke="#000" stroke-width="1.1" />
<line x1="260.94" y1="609.6" x2="278.98" y2="609.6" stroke="#000" stroke-width="1.0" />
<line x1="269.96" y1="601.6" x2="269.96" y2="617.6" stroke="#000" stroke-width="1.1" />
<line x1="278.98" y1="614.3" x2="297.01" y2="614.3" stroke="#000" stroke-width="1.0" />
<line x1="288" y1="602.8" x2="288" y2="625.8" stroke="#000" stroke-width="1.1" />
<line x1="297.01" y1="595.9" x2="315.05" y2="595.9" stroke="#000" stroke-width="1.0" />
<line x1="306.03" y1="583.1" x2="306.03" y2="608.7" stroke="#000" stroke-width="1.1" />
</g>
<circle cx="53.52" cy="604.9" r="2.5" fill="#000"/>
<circle cx="71.56" cy="608.9" r="2.5" fill="#000"/>
<circle cx="89.59" cy="603.4" r="2.5" fill="#000"/>
<circle cx="107.63" cy="605.9" r="2.5" fill="#000"/>
<circle cx="125.67" cy="603.4" r="2.5" fill="#000"/>
<circle cx="143.7" cy="608.5" r="2.5" fill="#000"/>
<circle cx="161.74" cy="603" r="2.5" fill="#000"/>
<circle cx="179.78" cy="609.1" r="2.5" fill="#000"/>
<circle cx="197.81" cy="611.6" r="2.5" fill="#000"/>
<circle cx="215.85" cy="601.4" r="2.5" fill="#000"/>
<circle cx="233.88" cy="601.4" r="2.5" fill="#000"/>
<circle cx="251.92" cy="605.1" r="2.5" fill="#000"/>
<circle cx="269.96" cy="609.6" r="2.5" fill="#000"/>
<circle cx="288" cy="614.3" r="2.5" fill="#000"/>
<circle cx="306.03" cy="595.9" r="2.5" fill="#000"/>
<rect x="44.5" y="583.5" width="270.55" height="44.8" fill="none" stroke="#000" stroke-width="1"/>
<path d="M51.26 628.3L51.26 625.4M51.26 583.5L51.26 586.4M58.03 628.3L58.03 625.4M58.03 583.5L58.03 586.4M64.79 628.3L64.79 625.4M64.79 583.5L64.79 586.4M71.56 628.3L71.56 622.5M71.56 583.5L71.56 589.3M78.32 628.3L78.32 625.4M78.32 583.5L78.32 586.4M85.08 628.3L85.08 625.4M85.08 583.5L85.08 586.4M91.85 628.3L91.85 625.4M91.85 583.5L91.85 586.4M98.61 628.3L98.61 622.5M98.61 583.5L98.61 589.3M105.37 628.3L105.37 625.4M105.37 583.5L105.37 586.4M112.14 628.3L112.14 625.4M112.14 583.5L112.14 586.4M118.9 628.3L118.9 625.4M118.9 583.5L118.9 586.4M125.67 628.3L125.67 622.5M125.67 583.5L125.67 589.3M132.43 628.3L132.43 625.4M132.43 583.5L132.43 586.4M139.19 628.3L139.19 625.4M139.19 583.5L139.19 586.4M145.96 628.3L145.96 625.4M145.96 583.5L145.96 586.4M152.72 628.3L152.72 622.5M152.72 583.5L152.72 589.3M159.48 628.3L159.48 625.4M159.48 583.5L159.48 586.4M166.25 628.3L166.25 625.4M166.25 583.5L166.25 586.4M173.01 628.3L173.01 625.4M173.01 583.5L173.01 586.4M179.78 628.3L179.78 622.5M179.78 583.5L179.78 589.3M186.54 628.3L186.54 625.4M186.54 583.5L186.54 586.4M193.3 628.3L193.3 625.4M193.3 583.5L193.3 586.4M200.07 628.3L200.07 625.4M200.07 583.5L200.07 586.4M206.83 628.3L206.83 622.5M206.83 583.5L206.83 589.3M213.59 628.3L213.59 625.4M213.59 583.5L213.59 586.4M220.36 628.3L220.36 625.4M220.36 583.5L220.36 586.4M227.12 628.3L227.12 625.4M227.12 583.5L227.12 586.4M233.89 628.3L233.89 622.5M233.89 583.5L233.89 589.3M240.65 628.3L240.65 625.4M240.65 583.5L240.65 586.4M247.41 628.3L247.41 625.4M247.41 583.5L247.41 586.4M254.18 628.3L254.18 625.4M254.18 583.5L254.18 586.4M260.94 628.3L260.94 622.5M260.94 583.5L260.94 589.3M267.7 628.3L267.7 625.4M267.7 583.5L267.7 586.4M274.47 628.3L274.47 625.4M274.47 583.5L274.47 586.4M281.23 628.3L281.23 625.4M281.23 583.5L281.23 586.4M288 628.3L288 622.5M288 583.5L288 589.3M294.76 628.3L294.76 625.4M294.76 583.5L294.76 586.4M301.52 628.3L301.52 625.4M301.52 583.5L301.52 586.4M308.29 628.3L308.29 625.4M308.29 583.5L308.29 586.4M44.5 623.82L50.7 623.82M315.05 623.82L308.85 623.82M44.5 619.34L47.7 619.34M315.05 619.34L311.85 619.34M44.5 614.86L47.7 614.86M315.05 614.86L311.85 614.86M44.5 610.38L47.7 610.38M315.05 610.38L311.85 610.38M44.5 605.9L50.7 605.9M315.05 605.9L308.85 605.9M44.5 601.42L47.7 601.42M315.05 601.42L311.85 601.42M44.5 596.94L47.7 596.94M315.05 596.94L311.85 596.94M44.5 592.46L47.7 592.46M315.05 592.46L311.85 592.46M44.5 587.98L50.7 587.98M315.05 587.98L308.85 587.98" fill="none" stroke="#000" stroke-width="0.9"/>
<text transform="translate(37.5 628.82) scale(0.91 1)" font-size="12.0" text-anchor="end">0.8</text>
<text transform="translate(38.5 610.9) scale(0.91 1)" font-size="12.0" text-anchor="end">1</text>
<text transform="translate(37.5 592.98) scale(0.91 1)" font-size="12.0" text-anchor="end">1.2</text>
<text x="43.9" y="642.9" font-size="11.4" text-anchor="middle" fill="#000" >−1</text>
<text x="70.96" y="642.9" font-size="11.4" text-anchor="middle" fill="#000" >−0.8</text>
<text x="98.01" y="642.9" font-size="11.4" text-anchor="middle" fill="#000" >−0.6</text>
<text x="125.07" y="642.9" font-size="11.4" text-anchor="middle" fill="#000" >−0.4</text>
<text x="152.12" y="642.9" font-size="11.4" text-anchor="middle" fill="#000" >−0.2</text>
<text x="179.18" y="642.9" font-size="11.4" text-anchor="middle" fill="#000" >0</text>
<text x="206.23" y="642.9" font-size="11.4" text-anchor="middle" fill="#000" >0.2</text>
<text x="233.29" y="642.9" font-size="11.4" text-anchor="middle" fill="#000" >0.4</text>
<text x="260.34" y="642.9" font-size="11.4" text-anchor="middle" fill="#000" >0.6</text>
<text x="287.39" y="642.9" font-size="11.4" text-anchor="middle" fill="#000" >0.8</text>
<text x="314.45" y="642.9" font-size="11.4" text-anchor="middle" fill="#000" >1</text>
<text x="314.85" y="656.7" font-size="11.7" text-anchor="end" fill="#000" >BDT<tspan font-size="7.9" font-style="italic" dy="2.9">VH</tspan><tspan dy="-2.9"> output</tspan></text>
<text transform="translate(13.3 346.8) rotate(-90) scale(0.92 1)" font-size="12.4" text-anchor="end">Events / 0.13</text>
<text transform="translate(16.2 582.9) rotate(-90) scale(0.895 1)" font-size="12.9" text-anchor="end">Data/Pred.</text>
<text x="57.9" y="366.1" font-size="11.8" font-weight="bold" font-style="italic" text-anchor="start" fill="#000" >ATLAS</text>
<text transform="translate(58.3 381.9) scale(0.62 1)" font-size="11.7">√</text>
<line x1="61.8" y1="373.25" x2="66.9" y2="373.25" stroke="#000" stroke-width="0.6" />
<text x="62" y="381.2" font-size="9.5" text-anchor="start" fill="#000" >s = 13 TeV, 139 fb<tspan font-size="6.3" dy="-4.1">-1</tspan></text>
<text x="57.9" y="394.9" font-size="9.1" font-weight="bold" font-style="italic" text-anchor="start" fill="#000" >1 lepton, 2 jets, 2 b-tags</text>
<text x="57.9" y="409.8" font-size="9.1" font-weight="bold" font-style="italic" text-anchor="start" fill="#000" >150 GeV</text>
<text x="99.5" y="409.8" font-size="9.6" text-anchor="start" fill="#000" style="font-family:'Liberation Serif',serif">≤</text>
<text x="121.7" y="409.8" font-size="9.1" font-weight="bold" font-style="italic" text-anchor="start" fill="#000" >&lt;</text>
<text x="129.4" y="409.8" font-size="9.1" font-weight="bold" font-style="italic" text-anchor="start" fill="#000" >250 GeV</text>
<text x="107.4" y="409.8" font-size="9.1" font-weight="bold" font-style="italic" text-anchor="start" fill="#000" >p</text>
<text x="113.9" y="406.4" font-size="6.5" font-weight="bold" font-style="italic" text-anchor="start" fill="#000" >V</text>
<text x="113.7" y="415.2" font-size="6.5" font-weight="bold" font-style="italic" text-anchor="start" fill="#000" >T</text>
<line x1="197.3" y1="359.5" x2="211.8" y2="359.5" stroke="#000" stroke-width="0.9" />
<circle cx="204.55" cy="359.5" r="2.5" fill="#000"/>
<text x="215" y="362.1" font-size="9.1" font-weight="bold" text-anchor="start" fill="#000" >Data</text>
<rect x="197.3" y="367.65" width="14.5" height="8.5" fill="#cc0000"/>
<text x="215" y="374.5" font-size="9.1" font-weight="bold" text-anchor="start" fill="#000" >VH, H</text>
<text x="239.9" y="374.8" font-size="14.2" text-anchor="start" fill="#222" >→</text>
<text x="254.2" y="374.5" font-size="9.1" font-weight="bold" text-anchor="start" fill="#000" >bb</text>
<line x1="260" y1="366.4" x2="265.1" y2="366.4" stroke="#000" stroke-width="0.7" />
<text x="268.1" y="374.5" font-size="9.1" font-weight="bold" text-anchor="start" fill="#000" >(<tspan font-weight="normal" style="font-family:'Liberation Serif',serif" font-size="10.8">μ</tspan>=1.02)</text>
<rect x="197.3" y="380.05" width="14.5" height="8.5" fill="#999999"/>
<text x="215" y="386.9" font-size="9.1" font-weight="bold" text-anchor="start" fill="#000" >Diboson</text>
<rect x="197.3" y="392.45" width="14.5" height="8.5" fill="#ffcc00"/>
<text x="215" y="399.3" font-size="9.1" font-weight="bold" text-anchor="start" fill="#000" >tt</text>
<line x1="218" y1="391.3" x2="221.2" y2="391.3" stroke="#000" stroke-width="0.7" />
<rect x="197.3" y="404.85" width="14.5" height="8.5" fill="#cc9900"/>
<text x="215" y="411.7" font-size="9.1" font-weight="bold" text-anchor="start" fill="#000" >Single top</text>
<rect x="197.3" y="417.25" width="14.5" height="8.5" fill="#cc99ff"/>
<text x="215" y="424.1" font-size="9.1" font-weight="bold" text-anchor="start" fill="#000" >Multijet</text>
<rect x="197.3" y="429.65" width="14.5" height="8.5" fill="#006600"/>
<text x="215" y="436.5" font-size="9.1" font-weight="bold" text-anchor="start" fill="#000" >W+jets</text>
<rect x="197.3" y="442.05" width="14.5" height="8.5" fill="#0066cc"/>
<text x="215" y="448.9" font-size="9.1" font-weight="bold" text-anchor="start" fill="#000" >Z+jets</text>
<rect x="197.3" y="454.5" width="14.5" height="8.4" fill="url(#hatch)" stroke="#000" stroke-width="0.6"/>
<text x="215" y="461.3" font-size="9.1" font-weight="bold" text-anchor="start" fill="#000" >Uncertainty</text>
<line x1="197.3" y1="471.1" x2="211.8" y2="471.1" stroke="#0000a0" stroke-width="1.7" stroke-dasharray="1.7 2.1"/>
<text x="215" y="473.7" font-size="9.1" font-weight="bold" text-anchor="start" fill="#000" >Pre-fit background</text>
<line x1="197.3" y1="483.5" x2="211.8" y2="483.5" stroke="#cc0000" stroke-width="1.6" />
<text x="215" y="486.1" font-size="9.1" font-weight="bold" text-anchor="start" fill="#000" >VH, H</text>
<text x="239.9" y="486.4" font-size="14.2" text-anchor="start" fill="#222" >→</text>
<text x="254.2" y="486.1" font-size="9.1" font-weight="bold" text-anchor="start" fill="#000" >bb</text>
<line x1="260" y1="478" x2="265.1" y2="478" stroke="#000" stroke-width="0.7" />
<text x="269.1" y="487.9" font-size="13.0" text-anchor="start" fill="#000" style="font-family:'Liberation Serif',serif">×</text>
<text x="277.6" y="486.1" font-size="9.1" font-weight="bold" text-anchor="start" fill="#000" >10</text>
<clipPath id="c345_334"><rect x="389.5" y="347.5" width="271" height="229"/></clipPath>
<clipPath id="c345_334r"><rect x="389.5" y="583.5" width="271" height="44.8"/></clipPath>
<g clip-path="url(#c345_334)">
<path d="M389.5 576.5 L389.5 446.5 L423.38 446.5 L423.38 448.5 L457.25 448.5 L457.25 461.8 L491.12 461.8 L491.12 478.2 L525 478.2 L525 493.5 L558.88 493.5 L558.88 505.8 L592.75 505.8 L592.75 517.4 L626.62 517.4 L626.62 525.6 L660.5 525.6 L660.5 576.5Z" fill="#cc0000" />
<path d="M389.5 576.5 L389.5 446.7 L423.38 446.7 L423.38 449.5 L457.25 449.5 L457.25 463.9 L491.12 463.9 L491.12 481.2 L525 481.2 L525 500 L558.88 500 L558.88 515.4 L592.75 515.4 L592.75 532.3 L626.62 532.3 L626.62 549.1 L660.5 549.1 L660.5 576.5Z" fill="#999999" />
<path d="M389.5 576.5 L389.5 446.9 L423.38 446.9 L423.38 454.2 L457.25 454.2 L457.25 467.5 L491.12 467.5 L491.12 483.7 L525 483.7 L525 501 L558.88 501 L558.88 516.4 L592.75 516.4 L592.75 533.3 L626.62 533.3 L626.62 549.7 L660.5 549.7 L660.5 576.5Z" fill="#ffcc00" />
<path d="M389.5 576.5 L389.5 458.1 L423.38 458.1 L423.38 466.9 L457.25 466.9 L457.25 481.2 L491.12 481.2 L491.12 498.6 L525 498.6 L525 515 L558.88 515 L558.88 532.3 L592.75 532.3 L592.75 546 L626.62 546 L626.62 559.5 L660.5 559.5 L660.5 576.5Z" fill="#cc9900" />
<path d="M389.5 576.5 L389.5 462.2 L423.38 462.2 L423.38 472.6 L457.25 472.6 L457.25 487.8 L491.12 487.8 L491.12 506.8 L525 506.8 L525 521.5 L558.88 521.5 L558.88 539.1 L592.75 539.1 L592.75 553.8 L626.62 553.8 L626.62 565.6 L660.5 565.6 L660.5 576.5Z" fill="#cc99ff" />
<path d="M389.5 576.5 L389.5 464.9 L423.38 464.9 L423.38 473.7 L457.25 473.7 L457.25 489 L491.12 489 L491.12 507.8 L525 507.8 L525 522.7 L558.88 522.7 L558.88 540.1 L592.75 540.1 L592.75 556.2 L626.62 556.2 L626.62 566 L660.5 566 L660.5 576.5Z" fill="#006600" />
<rect x="389.5" y="444" width="33.88" height="5" fill="url(#hatch)"/>
<rect x="423.38" y="446.9" width="33.88" height="3.2" fill="url(#hatch)"/>
<rect x="457.25" y="460.5" width="33.88" height="2.6" fill="url(#hatch)"/>
<rect x="491.12" y="476.7" width="33.88" height="3" fill="url(#hatch)"/>
<rect x="525" y="491.7" width="33.88" height="3.6" fill="url(#hatch)"/>
<rect x="558.88" y="503.8" width="33.88" height="4" fill="url(#hatch)"/>
<rect x="592.75" y="515.2" width="33.88" height="4.4" fill="url(#hatch)"/>
<rect x="626.62" y="523.1" width="33.88" height="5" fill="url(#hatch)"/>
<path d="M389.5 441.4 L423.38 441.4 L423.38 445 L457.25 445 L457.25 460.2 L491.12 460.2 L491.12 477.5 L525 477.5 L525 494.9 L558.88 494.9 L558.88 511.5 L592.75 511.5 L592.75 528.8 L626.62 528.8 L626.62 542.1 L660.5 542.1" fill="none" stroke="#0000a0" stroke-width="2.0" stroke-linejoin="miter" stroke-linecap="butt" stroke-dasharray="1.9 1.76"/>
</g>
<clipPath id="c345_334s"><rect x="389.5" y="347.5" width="271" height="230.5"/></clipPath>
<g clip-path="url(#c345_334s)">
<path d="M389.5 576.4 L423.38 576.4 L423.38 576.4 L457.25 576.4 L457.25 555.4 L491.12 555.4 L491.12 542.5 L525 542.5 L525 536 L558.88 536 L558.88 531.3 L592.75 531.3 L592.75 527.2 L626.62 527.2 L626.62 538 L660.5 538" fill="none" stroke="#cc0000" stroke-width="2.0" stroke-linejoin="miter" stroke-linecap="butt"/>
</g>
<rect x="389.5" y="347.5" width="271" height="229" fill="none" stroke="#000" stroke-width="1"/>
<text x="386.4" y="558.7" font-size="11.0" text-anchor="end" fill="#000" >10</text>
<text x="382.5" y="477.2" font-size="10.9" text-anchor="end" fill="#000" >10</text>
<text x="386.5" y="471.9" font-size="8.0" text-anchor="end" fill="#000" >2</text>
<text x="382.5" y="394.5" font-size="10.9" text-anchor="end" fill="#000" >10</text>
<text x="386.5" y="389.2" font-size="8.0" text-anchor="end" fill="#000" >3</text>
<path d="M396.27 576.5L396.27 573.4M396.27 347.5L396.27 350.6M403.05 576.5L403.05 573.4M403.05 347.5L403.05 350.6M409.82 576.5L409.82 573.4M409.82 347.5L409.82 350.6M416.6 576.5L416.6 570.6M416.6 347.5L416.6 353.4M423.38 576.5L423.38 573.4M423.38 347.5L423.38 350.6M430.15 576.5L430.15 573.4M430.15 347.5L430.15 350.6M436.93 576.5L436.93 573.4M436.93 347.5L436.93 350.6M443.7 576.5L443.7 570.6M443.7 347.5L443.7 353.4M450.48 576.5L450.48 573.4M450.48 347.5L450.48 350.6M457.25 576.5L457.25 573.4M457.25 347.5L457.25 350.6M464.02 576.5L464.02 573.4M464.02 347.5L464.02 350.6M470.8 576.5L470.8 570.6M470.8 347.5L470.8 353.4M477.57 576.5L477.57 573.4M477.57 347.5L477.57 350.6M484.35 576.5L484.35 573.4M484.35 347.5L484.35 350.6M491.12 576.5L491.12 573.4M491.12 347.5L491.12 350.6M497.9 576.5L497.9 570.6M497.9 347.5L497.9 353.4M504.68 576.5L504.68 573.4M504.68 347.5L504.68 350.6M511.45 576.5L511.45 573.4M511.45 347.5L511.45 350.6M518.23 576.5L518.23 573.4M518.23 347.5L518.23 350.6M525 576.5L525 570.6M525 347.5L525 353.4M531.77 576.5L531.77 573.4M531.77 347.5L531.77 350.6M538.55 576.5L538.55 573.4M538.55 347.5L538.55 350.6M545.33 576.5L545.33 573.4M545.33 347.5L545.33 350.6M552.1 576.5L552.1 570.6M552.1 347.5L552.1 353.4M558.88 576.5L558.88 573.4M558.88 347.5L558.88 350.6M565.65 576.5L565.65 573.4M565.65 347.5L565.65 350.6M572.42 576.5L572.42 573.4M572.42 347.5L572.42 350.6M579.2 576.5L579.2 570.6M579.2 347.5L579.2 353.4M585.98 576.5L585.98 573.4M585.98 347.5L585.98 350.6M592.75 576.5L592.75 573.4M592.75 347.5L592.75 350.6M599.52 576.5L599.52 573.4M599.52 347.5L599.52 350.6M606.3 576.5L606.3 570.6M606.3 347.5L606.3 353.4M613.08 576.5L613.08 573.4M613.08 347.5L613.08 350.6M619.85 576.5L619.85 573.4M619.85 347.5L619.85 350.6M626.62 576.5L626.62 573.4M626.62 347.5L626.62 350.6M633.4 576.5L633.4 570.6M633.4 347.5L633.4 353.4M640.17 576.5L640.17 573.4M640.17 347.5L640.17 350.6M646.95 576.5L646.95 573.4M646.95 347.5L646.95 350.6M653.73 576.5L653.73 573.4M653.73 347.5L653.73 350.6M389.5 572.45L394.5 572.45M660.5 572.45L655.5 572.45M389.5 566.91L394.5 566.91M660.5 566.91L655.5 566.91M389.5 562.11L394.5 562.11M660.5 562.11L655.5 562.11M389.5 557.88L394.5 557.88M660.5 557.88L655.5 557.88M389.5 554.1L399.5 554.1M660.5 554.1L650.5 554.1M389.5 529.2L394.5 529.2M660.5 529.2L655.5 529.2M389.5 514.64L394.5 514.64M660.5 514.64L655.5 514.64M389.5 504.31L394.5 504.31M660.5 504.31L655.5 504.31M389.5 496.3L394.5 496.3M660.5 496.3L655.5 496.3M389.5 489.75L394.5 489.75M660.5 489.75L655.5 489.75M389.5 484.21L394.5 484.21M660.5 484.21L655.5 484.21M389.5 479.41L394.5 479.41M660.5 479.41L655.5 479.41M389.5 475.18L394.5 475.18M660.5 475.18L655.5 475.18M389.5 471.4L399.5 471.4M660.5 471.4L650.5 471.4M389.5 446.5L394.5 446.5M660.5 446.5L655.5 446.5M389.5 431.94L394.5 431.94M660.5 431.94L655.5 431.94M389.5 421.61L394.5 421.61M660.5 421.61L655.5 421.61M389.5 413.6L394.5 413.6M660.5 413.6L655.5 413.6M389.5 407.05L394.5 407.05M660.5 407.05L655.5 407.05M389.5 401.51L394.5 401.51M660.5 401.51L655.5 401.51M389.5 396.71L394.5 396.71M660.5 396.71L655.5 396.71M389.5 392.48L394.5 392.48M660.5 392.48L655.5 392.48M389.5 388.7L399.5 388.7M660.5 388.7L650.5 388.7M389.5 363.8L394.5 363.8M660.5 363.8L655.5 363.8M389.5 349.24L394.5 349.24M660.5 349.24L655.5 349.24" fill="none" stroke="#000" stroke-width="1.0"/>
<g clip-path="url(#c345_334)">
<line x1="389.5" y1="446.9" x2="423.38" y2="446.9" stroke="#000" stroke-width="1.0" />
<line x1="406.44" y1="444.43" x2="406.44" y2="449.55" stroke="#000" stroke-width="1.1" />
<circle cx="406.44" cy="446.9" r="2.5" fill="#000"/>
<line x1="423.38" y1="450.2" x2="457.25" y2="450.2" stroke="#000" stroke-width="1.0" />
<line x1="440.31" y1="447.62" x2="440.31" y2="452.98" stroke="#000" stroke-width="1.1" />
<circle cx="440.31" cy="450.2" r="2.5" fill="#000"/>
<line x1="457.25" y1="462.2" x2="491.12" y2="462.2" stroke="#000" stroke-width="1.0" />
<line x1="474.19" y1="459.17" x2="474.19" y2="465.51" stroke="#000" stroke-width="1.1" />
<circle cx="474.19" cy="462.2" r="2.5" fill="#000"/>
<line x1="491.12" y1="478.6" x2="525" y2="478.6" stroke="#000" stroke-width="1.0" />
<line x1="508.06" y1="474.83" x2="508.06" y2="482.81" stroke="#000" stroke-width="1.1" />
<circle cx="508.06" cy="478.6" r="2.5" fill="#000"/>
<line x1="525" y1="500" x2="558.88" y2="500" stroke="#000" stroke-width="1.0" />
<line x1="541.94" y1="495.01" x2="541.94" y2="505.79" stroke="#000" stroke-width="1.1" />
<circle cx="541.94" cy="500" r="2.5" fill="#000"/>
<line x1="558.88" y1="506.8" x2="592.75" y2="506.8" stroke="#000" stroke-width="1.0" />
<line x1="575.81" y1="501.36" x2="575.81" y2="513.22" stroke="#000" stroke-width="1.1" />
<circle cx="575.81" cy="506.8" r="2.5" fill="#000"/>
<line x1="592.75" y1="511.3" x2="626.62" y2="511.3" stroke="#000" stroke-width="1.0" />
<line x1="609.69" y1="505.53" x2="609.69" y2="518.18" stroke="#000" stroke-width="1.1" />
<circle cx="609.69" cy="511.3" r="2.5" fill="#000"/>
<line x1="626.62" y1="524.1" x2="660.5" y2="524.1" stroke="#000" stroke-width="1.0" />
<line x1="643.56" y1="517.31" x2="643.56" y2="532.49" stroke="#000" stroke-width="1.1" />
<circle cx="643.56" cy="524.1" r="2.5" fill="#000"/>
</g>
<g clip-path="url(#c345_334r)">
<rect x="389.5" y="604.2" width="33.88" height="3.4" fill="url(#hatch)"/>
<rect x="423.38" y="604.2" width="33.88" height="3.4" fill="url(#hatch)"/>
<rect x="457.25" y="604.1" width="33.88" height="3.6" fill="url(#hatch)"/>
<rect x="491.12" y="604" width="33.88" height="3.8" fill="url(#hatch)"/>
<rect x="525" y="603.8" width="33.88" height="4.2" fill="url(#hatch)"/>
<rect x="558.88" y="603.5" width="33.88" height="4.8" fill="url(#hatch)"/>
<rect x="592.75" y="603" width="33.88" height="5.8" fill="url(#hatch)"/>
<rect x="626.62" y="602.4" width="33.88" height="7" fill="url(#hatch)"/>
<line x1="389.5" y1="607.5" x2="423.38" y2="607.5" stroke="#000" stroke-width="1.0" />
<line x1="406.44" y1="606" x2="406.44" y2="609" stroke="#000" stroke-width="1.1" />
<line x1="423.38" y1="607.3" x2="457.25" y2="607.3" stroke="#000" stroke-width="1.0" />
<line x1="440.31" y1="605.3" x2="440.31" y2="609.3" stroke="#000" stroke-width="1.1" />
<line x1="457.25" y1="605.3" x2="491.12" y2="605.3" stroke="#000" stroke-width="1.0" />
<line x1="474.19" y1="601.8" x2="474.19" y2="608.8" stroke="#000" stroke-width="1.1" />
<line x1="491.12" y1="605.5" x2="525" y2="605.5" stroke="#000" stroke-width="1.0" />
<line x1="508.06" y1="601" x2="508.06" y2="610" stroke="#000" stroke-width="1.1" />
<line x1="525" y1="612" x2="558.88" y2="612" stroke="#000" stroke-width="1.0" />
<line x1="541.94" y1="607.3" x2="541.94" y2="616.7" stroke="#000" stroke-width="1.1" />
<line x1="558.88" y1="606.9" x2="592.75" y2="606.9" stroke="#000" stroke-width="1.0" />
<line x1="575.81" y1="600.4" x2="575.81" y2="613.4" stroke="#000" stroke-width="1.1" />
<line x1="592.75" y1="598.5" x2="626.62" y2="598.5" stroke="#000" stroke-width="1.0" />
<line x1="609.69" y1="590.5" x2="609.69" y2="606.5" stroke="#000" stroke-width="1.1" />
<line x1="626.62" y1="603.9" x2="660.5" y2="603.9" stroke="#000" stroke-width="1.0" />
<line x1="643.56" y1="594.9" x2="643.56" y2="612.9" stroke="#000" stroke-width="1.1" />
</g>
<circle cx="406.44" cy="607.5" r="2.5" fill="#000"/>
<circle cx="440.31" cy="607.3" r="2.5" fill="#000"/>
<circle cx="474.19" cy="605.3" r="2.5" fill="#000"/>
<circle cx="508.06" cy="605.5" r="2.5" fill="#000"/>
<circle cx="541.94" cy="612" r="2.5" fill="#000"/>
<circle cx="575.81" cy="606.9" r="2.5" fill="#000"/>
<circle cx="609.69" cy="598.5" r="2.5" fill="#000"/>
<circle cx="643.56" cy="603.9" r="2.5" fill="#000"/>
<rect x="389.5" y="583.5" width="271" height="44.8" fill="none" stroke="#000" stroke-width="1"/>
<path d="M396.27 628.3L396.27 625.4M396.27 583.5L396.27 586.4M403.05 628.3L403.05 625.4M403.05 583.5L403.05 586.4M409.82 628.3L409.82 625.4M409.82 583.5L409.82 586.4M416.6 628.3L416.6 622.5M416.6 583.5L416.6 589.3M423.38 628.3L423.38 625.4M423.38 583.5L423.38 586.4M430.15 628.3L430.15 625.4M430.15 583.5L430.15 586.4M436.93 628.3L436.93 625.4M436.93 583.5L436.93 586.4M443.7 628.3L443.7 622.5M443.7 583.5L443.7 589.3M450.48 628.3L450.48 625.4M450.48 583.5L450.48 586.4M457.25 628.3L457.25 625.4M457.25 583.5L457.25 586.4M464.02 628.3L464.02 625.4M464.02 583.5L464.02 586.4M470.8 628.3L470.8 622.5M470.8 583.5L470.8 589.3M477.57 628.3L477.57 625.4M477.57 583.5L477.57 586.4M484.35 628.3L484.35 625.4M484.35 583.5L484.35 586.4M491.12 628.3L491.12 625.4M491.12 583.5L491.12 586.4M497.9 628.3L497.9 622.5M497.9 583.5L497.9 589.3M504.68 628.3L504.68 625.4M504.68 583.5L504.68 586.4M511.45 628.3L511.45 625.4M511.45 583.5L511.45 586.4M518.23 628.3L518.23 625.4M518.23 583.5L518.23 586.4M525 628.3L525 622.5M525 583.5L525 589.3M531.77 628.3L531.77 625.4M531.77 583.5L531.77 586.4M538.55 628.3L538.55 625.4M538.55 583.5L538.55 586.4M545.33 628.3L545.33 625.4M545.33 583.5L545.33 586.4M552.1 628.3L552.1 622.5M552.1 583.5L552.1 589.3M558.88 628.3L558.88 625.4M558.88 583.5L558.88 586.4M565.65 628.3L565.65 625.4M565.65 583.5L565.65 586.4M572.42 628.3L572.42 625.4M572.42 583.5L572.42 586.4M579.2 628.3L579.2 622.5M579.2 583.5L579.2 589.3M585.98 628.3L585.98 625.4M585.98 583.5L585.98 586.4M592.75 628.3L592.75 625.4M592.75 583.5L592.75 586.4M599.52 628.3L599.52 625.4M599.52 583.5L599.52 586.4M606.3 628.3L606.3 622.5M606.3 583.5L606.3 589.3M613.08 628.3L613.08 625.4M613.08 583.5L613.08 586.4M619.85 628.3L619.85 625.4M619.85 583.5L619.85 586.4M626.62 628.3L626.62 625.4M626.62 583.5L626.62 586.4M633.4 628.3L633.4 622.5M633.4 583.5L633.4 589.3M640.17 628.3L640.17 625.4M640.17 583.5L640.17 586.4M646.95 628.3L646.95 625.4M646.95 583.5L646.95 586.4M653.73 628.3L653.73 625.4M653.73 583.5L653.73 586.4M389.5 624.57L395.7 624.57M660.5 624.57L654.3 624.57M389.5 620.83L392.7 620.83M660.5 620.83L657.3 620.83M389.5 617.1L392.7 617.1M660.5 617.1L657.3 617.1M389.5 613.37L392.7 613.37M660.5 613.37L657.3 613.37M389.5 609.63L392.7 609.63M660.5 609.63L657.3 609.63M389.5 605.9L395.7 605.9M660.5 605.9L654.3 605.9M389.5 602.17L392.7 602.17M660.5 602.17L657.3 602.17M389.5 598.43L392.7 598.43M660.5 598.43L657.3 598.43M389.5 594.7L392.7 594.7M660.5 594.7L657.3 594.7M389.5 590.97L392.7 590.97M660.5 590.97L657.3 590.97M389.5 587.23L395.7 587.23M660.5 587.23L654.3 587.23" fill="none" stroke="#000" stroke-width="0.9"/>
<text transform="translate(382.5 629.57) scale(0.91 1)" font-size="12.0" text-anchor="end">0.5</text>
<text transform="translate(383.5 610.9) scale(0.91 1)" font-size="12.0" text-anchor="end">1</text>
<text transform="translate(382.5 592.23) scale(0.91 1)" font-size="12.0" text-anchor="end">1.5</text>
<text x="388.9" y="642.9" font-size="11.4" text-anchor="middle" fill="#000" >−1</text>
<text x="416" y="642.9" font-size="11.4" text-anchor="middle" fill="#000" >−0.8</text>
<text x="443.1" y="642.9" font-size="11.4" text-anchor="middle" fill="#000" >−0.6</text>
<text x="470.2" y="642.9" font-size="11.4" text-anchor="middle" fill="#000" >−0.4</text>
<text x="497.3" y="642.9" font-size="11.4" text-anchor="middle" fill="#000" >−0.2</text>
<text x="524.4" y="642.9" font-size="11.4" text-anchor="middle" fill="#000" >0</text>
<text x="551.5" y="642.9" font-size="11.4" text-anchor="middle" fill="#000" >0.2</text>
<text x="578.6" y="642.9" font-size="11.4" text-anchor="middle" fill="#000" >0.4</text>
<text x="605.7" y="642.9" font-size="11.4" text-anchor="middle" fill="#000" >0.6</text>
<text x="632.8" y="642.9" font-size="11.4" text-anchor="middle" fill="#000" >0.8</text>
<text x="659.9" y="642.9" font-size="11.4" text-anchor="middle" fill="#000" >1</text>
<text x="660.3" y="656.7" font-size="11.7" text-anchor="end" fill="#000" >BDT<tspan font-size="7.9" font-style="italic" dy="2.9">VH</tspan><tspan dy="-2.9"> output</tspan></text>
<text transform="translate(358.3 346.8) rotate(-90) scale(0.92 1)" font-size="12.4" text-anchor="end">Events / 0.25</text>
<text transform="translate(361.2 582.9) rotate(-90) scale(0.895 1)" font-size="12.9" text-anchor="end">Data/Pred.</text>
<text x="402.9" y="366.1" font-size="11.8" font-weight="bold" font-style="italic" text-anchor="start" fill="#000" >ATLAS</text>
<text transform="translate(403.3 381.9) scale(0.62 1)" font-size="11.7">√</text>
<line x1="406.8" y1="373.25" x2="411.9" y2="373.25" stroke="#000" stroke-width="0.6" />
<text x="407" y="381.2" font-size="9.5" text-anchor="start" fill="#000" >s = 13 TeV, 139 fb<tspan font-size="6.3" dy="-4.1">-1</tspan></text>
<text x="402.9" y="394.9" font-size="9.1" font-weight="bold" font-style="italic" text-anchor="start" fill="#000" >1 lepton, 2 jets, 2 b-tags</text>
<text x="418.5" y="409.8" font-size="9.6" text-anchor="start" fill="#000" style="font-family:'Liberation Serif',serif">≥</text>
<text x="426.8" y="409.8" font-size="9.1" font-weight="bold" font-style="italic" text-anchor="start" fill="#000" >250 GeV</text>
<text x="402.9" y="409.8" font-size="9.1" font-weight="bold" font-style="italic" text-anchor="start" fill="#000" >p</text>
<text x="409.4" y="406.4" font-size="6.5" font-weight="bold" font-style="italic" text-anchor="start" fill="#000" >V</text>
<text x="409.2" y="415.2" font-size="6.5" font-weight="bold" font-style="italic" text-anchor="start" fill="#000" >T</text>
<line x1="542.3" y1="359.5" x2="556.8" y2="359.5" stroke="#000" stroke-width="0.9" />
<circle cx="549.55" cy="359.5" r="2.5" fill="#000"/>
<text x="560" y="362.1" font-size="9.1" font-weight="bold" text-anchor="start" fill="#000" >Data</text>
<rect x="542.3" y="367.65" width="14.5" height="8.5" fill="#cc0000"/>
<text x="560" y="374.5" font-size="9.1" font-weight="bold" text-anchor="start" fill="#000" >VH, H</text>
<text x="584.9" y="374.8" font-size="14.2" text-anchor="start" fill="#222" >→</text>
<text x="599.2" y="374.5" font-size="9.1" font-weight="bold" text-anchor="start" fill="#000" >bb</text>
<line x1="605" y1="366.4" x2="610.1" y2="366.4" stroke="#000" stroke-width="0.7" />
<text x="613.1" y="374.5" font-size="9.1" font-weight="bold" text-anchor="start" fill="#000" >(<tspan font-weight="normal" style="font-family:'Liberation Serif',serif" font-size="10.8">μ</tspan>=1.02)</text>
<rect x="542.3" y="380.05" width="14.5" height="8.5" fill="#999999"/>
<text x="560" y="386.9" font-size="9.1" font-weight="bold" text-anchor="start" fill="#000" >Diboson</text>
<rect x="542.3" y="392.45" width="14.5" height="8.5" fill="#ffcc00"/>
<text x="560" y="399.3" font-size="9.1" font-weight="bold" text-anchor="start" fill="#000" >tt</text>
<line x1="563" y1="391.3" x2="566.2" y2="391.3" stroke="#000" stroke-width="0.7" />
<rect x="542.3" y="404.85" width="14.5" height="8.5" fill="#cc9900"/>
<text x="560" y="411.7" font-size="9.1" font-weight="bold" text-anchor="start" fill="#000" >Single top</text>
<rect x="542.3" y="417.25" width="14.5" height="8.5" fill="#cc99ff"/>
<text x="560" y="424.1" font-size="9.1" font-weight="bold" text-anchor="start" fill="#000" >Multijet</text>
<rect x="542.3" y="429.65" width="14.5" height="8.5" fill="#006600"/>
<text x="560" y="436.5" font-size="9.1" font-weight="bold" text-anchor="start" fill="#000" >W+jets</text>
<rect x="542.3" y="442.05" width="14.5" height="8.5" fill="#0066cc"/>
<text x="560" y="448.9" font-size="9.1" font-weight="bold" text-anchor="start" fill="#000" >Z+jets</text>
<rect x="542.3" y="454.5" width="14.5" height="8.4" fill="url(#hatch)" stroke="#000" stroke-width="0.6"/>
<text x="560" y="461.3" font-size="9.1" font-weight="bold" text-anchor="start" fill="#000" >Uncertainty</text>
<line x1="542.3" y1="471.1" x2="556.8" y2="471.1" stroke="#0000a0" stroke-width="1.7" stroke-dasharray="1.7 2.1"/>
<text x="560" y="473.7" font-size="9.1" font-weight="bold" text-anchor="start" fill="#000" >Pre-fit background</text>
<line x1="542.3" y1="483.5" x2="556.8" y2="483.5" stroke="#cc0000" stroke-width="1.6" />
<text x="560" y="486.1" font-size="9.1" font-weight="bold" text-anchor="start" fill="#000" >VH, H</text>
<text x="584.9" y="486.4" font-size="14.2" text-anchor="start" fill="#222" >→</text>
<text x="599.2" y="486.1" font-size="9.1" font-weight="bold" text-anchor="start" fill="#000" >bb</text>
<line x1="605" y1="478" x2="610.1" y2="478" stroke="#000" stroke-width="0.7" />
<text x="614.1" y="487.9" font-size="13.0" text-anchor="start" fill="#000" style="font-family:'Liberation Serif',serif">×</text>
<text x="622.6" y="486.1" font-size="9.1" font-weight="bold" text-anchor="start" fill="#000" >2</text>
<clipPath id="c0_667"><rect x="44.5" y="681.2" width="270.55" height="229.3"/></clipPath>
<clipPath id="c0_667r"><rect x="44.5" y="917.1" width="270.55" height="45.1"/></clipPath>
<g clip-path="url(#c0_667)">
<path d="M44.5 910.5 L44.5 754.3 L62.54 754.3 L62.54 759.2 L80.57 759.2 L80.57 763 L98.61 763 L98.61 769.2 L116.65 769.2 L116.65 776.4 L134.68 776.4 L134.68 785 L152.72 785 L152.72 792.5 L170.76 792.5 L170.76 801.6 L188.79 801.6 L188.79 808.1 L206.83 808.1 L206.83 809.1 L224.87 809.1 L224.87 820.3 L242.9 820.3 L242.9 825.4 L260.94 825.4 L260.94 832 L278.98 832 L278.98 838.1 L297.01 838.1 L297.01 847.9 L315.05 847.9 L315.05 910.5Z" fill="#cc0000" />
<path d="M44.5 910.5 L44.5 754.9 L62.54 754.9 L62.54 759.8 L80.57 759.8 L80.57 763.6 L98.61 763.6 L98.61 770 L116.65 770 L116.65 777.4 L134.68 777.4 L134.68 786 L152.72 786 L152.72 793.6 L170.76 793.6 L170.76 803.3 L188.79 803.3 L188.79 810.5 L206.83 810.5 L206.83 812.2 L224.87 812.2 L224.87 826.5 L242.9 826.5 L242.9 832.2 L260.94 832.2 L260.94 840.4 L278.98 840.4 L278.98 849.4 L297.01 849.4 L297.01 864.3 L315.05 864.3 L315.05 910.5Z" fill="#999999" />
<path d="M44.5 910.5 L44.5 757.4 L62.54 757.4 L62.54 762 L80.57 762 L80.57 765.8 L98.61 765.8 L98.61 772.7 L116.65 772.7 L116.65 780.3 L134.68 780.3 L134.68 788.6 L152.72 788.6 L152.72 796.6 L170.76 796.6 L170.76 804.6 L188.79 804.6 L188.79 811.7 L206.83 811.7 L206.83 813.2 L224.87 813.2 L224.87 827.5 L242.9 827.5 L242.9 833.2 L260.94 833.2 L260.94 841.4 L278.98 841.4 L278.98 850.6 L297.01 850.6 L297.01 865.3 L315.05 865.3 L315.05 910.5Z" fill="#0066cc" />
<path d="M44.5 910.5 L44.5 834.6 L62.54 834.6 L62.54 834 L80.57 834 L80.57 843.8 L98.61 843.8 L98.61 841.8 L116.65 841.8 L116.65 857.1 L134.68 857.1 L134.68 885.1 L152.72 885.1 L152.72 874.1 L170.76 874.1 L170.76 904.7 L188.79 904.7 L188.79 909.2 L206.83 909.2 L206.83 902.1 L224.87 902.1 L224.87 910.5 L242.9 910.5 L242.9 910.5 L260.94 910.5 L260.94 910.5 L278.98 910.5 L278.98 910.5 L297.01 910.5 L297.01 910.5 L315.05 910.5 L315.05 910.5Z" fill="#ff9900" />
<rect x="44.5" y="753.3" width="18.04" height="2" fill="url(#hatch)"/>
<rect x="62.54" y="758.2" width="18.04" height="2" fill="url(#hatch)"/>
<rect x="80.57" y="762" width="18.04" height="2" fill="url(#hatch)"/>
<rect x="98.61" y="768.1" width="18.04" height="2.2" fill="url(#hatch)"/>
<rect x="116.65" y="775.2" width="18.04" height="2.4" fill="url(#hatch)"/>
<rect x="134.68" y="783.7" width="18.04" height="2.6" fill="url(#hatch)"/>
<rect x="152.72" y="791.1" width="18.04" height="2.8" fill="url(#hatch)"/>
<rect x="170.76" y="800.1" width="18.04" height="3" fill="url(#hatch)"/>
<rect x="188.79" y="806.5" width="18.04" height="3.2" fill="url(#hatch)"/>
<rect x="206.83" y="807.3" width="18.04" height="3.6" fill="url(#hatch)"/>
<rect x="224.87" y="818.3" width="18.04" height="4" fill="url(#hatch)"/>
<rect x="242.9" y="823.2" width="18.04" height="4.4" fill="url(#hatch)"/>
<rect x="260.94" y="829.6" width="18.04" height="4.8" fill="url(#hatch)"/>
<rect x="278.98" y="835.4" width="18.04" height="5.4" fill="url(#hatch)"/>
<rect x="297.01" y="844.5" width="18.04" height="6.8" fill="url(#hatch)"/>
<path d="M44.5 758.1 L62.54 758.1 L62.54 762.4 L80.57 762.4 L80.57 766.2 L98.61 766.2 L98.61 773 L116.65 773 L116.65 780.8 L134.68 780.8 L134.68 789 L152.72 789 L152.72 797 L170.76 797 L170.76 805.5 L188.79 805.5 L188.79 813.2 L206.83 813.2 L206.83 817.9 L224.87 817.9 L224.87 828.1 L242.9 828.1 L242.9 836.7 L260.94 836.7 L260.94 844.4 L278.98 844.4 L278.98 852.4 L297.01 852.4 L297.01 869 L315.05 869" fill="none" stroke="#0000a0" stroke-width="2.0" stroke-linejoin="miter" stroke-linecap="butt" stroke-dasharray="1.9 1.76"/>
</g>
<clipPath id="c0_667s"><rect x="44.5" y="681.2" width="270.55" height="230.8"/></clipPath>
<g clip-path="url(#c0_667s)">
<path d="M44.5 905.1 L62.54 905.1 L62.54 881 L80.57 881 L80.57 864.3 L98.61 864.3 L98.61 851 L116.65 851 L116.65 840.8 L134.68 840.8 L134.68 835.3 L152.72 835.3 L152.72 832 L170.76 832 L170.76 829.1 L188.79 829.1 L188.79 827.9 L206.83 827.9 L206.83 825.8 L224.87 825.8 L224.87 824.8 L242.9 824.8 L242.9 824.4 L260.94 824.4 L260.94 823.4 L278.98 823.4 L278.98 823 L297.01 823 L297.01 824.4 L315.05 824.4" fill="none" stroke="#cc0000" stroke-width="2.0" stroke-linejoin="miter" stroke-linecap="butt"/>
</g>
<rect x="44.5" y="681.2" width="270.55" height="229.3" fill="none" stroke="#000" stroke-width="1"/>
<text x="44.7" y="909.4" font-size="11.6" text-anchor="end" fill="#000" >1</text>
<text x="41.4" y="842.3" font-size="11.0" text-anchor="end" fill="#000" >10</text>
<text x="37.5" y="776.5" font-size="10.9" text-anchor="end" fill="#000" >10</text>
<text x="41.5" y="771.2" font-size="8.0" text-anchor="end" fill="#000" >2</text>
<text x="37.5" y="709.5" font-size="10.9" text-anchor="end" fill="#000" >10</text>
<text x="41.5" y="704.2" font-size="8.0" text-anchor="end" fill="#000" >3</text>
<path d="M51.26 910.5L51.26 907.4M51.26 681.2L51.26 684.3M58.03 910.5L58.03 907.4M58.03 681.2L58.03 684.3M64.79 910.5L64.79 907.4M64.79 681.2L64.79 684.3M71.56 910.5L71.56 904.6M71.56 681.2L71.56 687.1M78.32 910.5L78.32 907.4M78.32 681.2L78.32 684.3M85.08 910.5L85.08 907.4M85.08 681.2L85.08 684.3M91.85 910.5L91.85 907.4M91.85 681.2L91.85 684.3M98.61 910.5L98.61 904.6M98.61 681.2L98.61 687.1M105.37 910.5L105.37 907.4M105.37 681.2L105.37 684.3M112.14 910.5L112.14 907.4M112.14 681.2L112.14 684.3M118.9 910.5L118.9 907.4M118.9 681.2L118.9 684.3M125.67 910.5L125.67 904.6M125.67 681.2L125.67 687.1M132.43 910.5L132.43 907.4M132.43 681.2L132.43 684.3M139.19 910.5L139.19 907.4M139.19 681.2L139.19 684.3M145.96 910.5L145.96 907.4M145.96 681.2L145.96 684.3M152.72 910.5L152.72 904.6M152.72 681.2L152.72 687.1M159.48 910.5L159.48 907.4M159.48 681.2L159.48 684.3M166.25 910.5L166.25 907.4M166.25 681.2L166.25 684.3M173.01 910.5L173.01 907.4M173.01 681.2L173.01 684.3M179.78 910.5L179.78 904.6M179.78 681.2L179.78 687.1M186.54 910.5L186.54 907.4M186.54 681.2L186.54 684.3M193.3 910.5L193.3 907.4M193.3 681.2L193.3 684.3M200.07 910.5L200.07 907.4M200.07 681.2L200.07 684.3M206.83 910.5L206.83 904.6M206.83 681.2L206.83 687.1M213.59 910.5L213.59 907.4M213.59 681.2L213.59 684.3M220.36 910.5L220.36 907.4M220.36 681.2L220.36 684.3M227.12 910.5L227.12 907.4M227.12 681.2L227.12 684.3M233.89 910.5L233.89 904.6M233.89 681.2L233.89 687.1M240.65 910.5L240.65 907.4M240.65 681.2L240.65 684.3M247.41 910.5L247.41 907.4M247.41 681.2L247.41 684.3M254.18 910.5L254.18 907.4M254.18 681.2L254.18 684.3M260.94 910.5L260.94 904.6M260.94 681.2L260.94 687.1M267.7 910.5L267.7 907.4M267.7 681.2L267.7 684.3M274.47 910.5L274.47 907.4M274.47 681.2L274.47 684.3M281.23 910.5L281.23 907.4M281.23 681.2L281.23 684.3M288 910.5L288 904.6M288 681.2L288 687.1M294.76 910.5L294.76 907.4M294.76 681.2L294.76 684.3M301.52 910.5L301.52 907.4M301.52 681.2L301.52 684.3M308.29 910.5L308.29 907.4M308.29 681.2L308.29 684.3M44.5 907.77L49.5 907.77M315.05 907.77L310.05 907.77M44.5 904.7L54.5 904.7M315.05 904.7L305.05 904.7M44.5 884.53L49.5 884.53M315.05 884.53L310.05 884.53M44.5 872.73L49.5 872.73M315.05 872.73L310.05 872.73M44.5 864.36L49.5 864.36M315.05 864.36L310.05 864.36M44.5 857.87L49.5 857.87M315.05 857.87L310.05 857.87M44.5 852.56L49.5 852.56M315.05 852.56L310.05 852.56M44.5 848.08L49.5 848.08M315.05 848.08L310.05 848.08M44.5 844.19L49.5 844.19M315.05 844.19L310.05 844.19M44.5 840.77L49.5 840.77M315.05 840.77L310.05 840.77M44.5 837.7L54.5 837.7M315.05 837.7L305.05 837.7M44.5 817.53L49.5 817.53M315.05 817.53L310.05 817.53M44.5 805.73L49.5 805.73M315.05 805.73L310.05 805.73M44.5 797.36L49.5 797.36M315.05 797.36L310.05 797.36M44.5 790.87L49.5 790.87M315.05 790.87L310.05 790.87M44.5 785.56L49.5 785.56M315.05 785.56L310.05 785.56M44.5 781.08L49.5 781.08M315.05 781.08L310.05 781.08M44.5 777.19L49.5 777.19M315.05 777.19L310.05 777.19M44.5 773.77L49.5 773.77M315.05 773.77L310.05 773.77M44.5 770.7L54.5 770.7M315.05 770.7L305.05 770.7M44.5 750.53L49.5 750.53M315.05 750.53L310.05 750.53M44.5 738.73L49.5 738.73M315.05 738.73L310.05 738.73M44.5 730.36L49.5 730.36M315.05 730.36L310.05 730.36M44.5 723.87L49.5 723.87M315.05 723.87L310.05 723.87M44.5 718.56L49.5 718.56M315.05 718.56L310.05 718.56M44.5 714.08L49.5 714.08M315.05 714.08L310.05 714.08M44.5 710.19L49.5 710.19M315.05 710.19L310.05 710.19M44.5 706.77L49.5 706.77M315.05 706.77L310.05 706.77M44.5 703.7L54.5 703.7M315.05 703.7L305.05 703.7M44.5 683.53L49.5 683.53M315.05 683.53L310.05 683.53" fill="none" stroke="#000" stroke-width="1.0"/>
<g clip-path="url(#c0_667)">
<line x1="44.5" y1="754.9" x2="62.54" y2="754.9" stroke="#000" stroke-width="1.0" />
<line x1="53.52" y1="752.34" x2="53.52" y2="757.67" stroke="#000" stroke-width="1.1" />
<circle cx="53.52" cy="754.9" r="2.5" fill="#000"/>
<line x1="62.54" y1="761" x2="80.57" y2="761" stroke="#000" stroke-width="1.0" />
<line x1="71.56" y1="758.16" x2="71.56" y2="764.09" stroke="#000" stroke-width="1.1" />
<circle cx="71.56" cy="761" r="2.5" fill="#000"/>
<line x1="80.57" y1="762.5" x2="98.61" y2="762.5" stroke="#000" stroke-width="1.0" />
<line x1="89.59" y1="759.59" x2="89.59" y2="765.67" stroke="#000" stroke-width="1.1" />
<circle cx="89.59" cy="762.5" r="2.5" fill="#000"/>
<line x1="98.61" y1="770.7" x2="116.65" y2="770.7" stroke="#000" stroke-width="1.0" />
<line x1="107.63" y1="767.37" x2="107.63" y2="774.38" stroke="#000" stroke-width="1.1" />
<circle cx="107.63" cy="770.7" r="2.5" fill="#000"/>
<line x1="116.65" y1="770.7" x2="134.68" y2="770.7" stroke="#000" stroke-width="1.0" />
<line x1="125.67" y1="767.37" x2="125.67" y2="774.38" stroke="#000" stroke-width="1.1" />
<circle cx="125.67" cy="770.7" r="2.5" fill="#000"/>
<line x1="134.68" y1="786" x2="152.72" y2="786" stroke="#000" stroke-width="1.0" />
<line x1="143.7" y1="781.73" x2="143.7" y2="790.87" stroke="#000" stroke-width="1.1" />
<circle cx="143.7" cy="786" r="2.5" fill="#000"/>
<line x1="152.72" y1="793.5" x2="170.76" y2="793.5" stroke="#000" stroke-width="1.0" />
<line x1="161.74" y1="788.68" x2="161.74" y2="799.09" stroke="#000" stroke-width="1.1" />
<circle cx="161.74" cy="793.5" r="2.5" fill="#000"/>
<line x1="170.76" y1="801.5" x2="188.79" y2="801.5" stroke="#000" stroke-width="1.0" />
<line x1="179.78" y1="796.02" x2="179.78" y2="808" stroke="#000" stroke-width="1.1" />
<circle cx="179.78" cy="801.5" r="2.5" fill="#000"/>
<line x1="188.79" y1="812.2" x2="206.83" y2="812.2" stroke="#000" stroke-width="1.0" />
<line x1="197.81" y1="805.72" x2="197.81" y2="820.17" stroke="#000" stroke-width="1.1" />
<circle cx="197.81" cy="812.2" r="2.5" fill="#000"/>
<line x1="206.83" y1="806.6" x2="224.87" y2="806.6" stroke="#000" stroke-width="1.0" />
<line x1="215.85" y1="800.66" x2="215.85" y2="813.76" stroke="#000" stroke-width="1.1" />
<circle cx="215.85" cy="806.6" r="2.5" fill="#000"/>
<line x1="224.87" y1="825.4" x2="242.9" y2="825.4" stroke="#000" stroke-width="1.0" />
<line x1="233.88" y1="817.44" x2="233.88" y2="835.72" stroke="#000" stroke-width="1.1" />
<circle cx="233.88" cy="825.4" r="2.5" fill="#000"/>
<line x1="242.9" y1="832.6" x2="260.94" y2="832.6" stroke="#000" stroke-width="1.0" />
<line x1="251.92" y1="823.72" x2="251.92" y2="844.54" stroke="#000" stroke-width="1.1" />
<circle cx="251.92" cy="832.6" r="2.5" fill="#000"/>
<line x1="260.94" y1="837.7" x2="278.98" y2="837.7" stroke="#000" stroke-width="1.0" />
<line x1="269.96" y1="828.11" x2="269.96" y2="850.97" stroke="#000" stroke-width="1.1" />
<circle cx="269.96" cy="837.7" r="2.5" fill="#000"/>
<line x1="278.98" y1="847.9" x2="297.01" y2="847.9" stroke="#000" stroke-width="1.0" />
<line x1="288" y1="836.73" x2="288" y2="864.41" stroke="#000" stroke-width="1.1" />
<circle cx="288" cy="847.9" r="2.5" fill="#000"/>
<line x1="297.01" y1="835" x2="315.05" y2="835" stroke="#000" stroke-width="1.0" />
<line x1="306.03" y1="825.79" x2="306.03" y2="847.55" stroke="#000" stroke-width="1.1" />
<circle cx="306.03" cy="835" r="2.5" fill="#000"/>
</g>
<g clip-path="url(#c0_667r)">
<rect x="44.5" y="936.65" width="18.04" height="6" fill="url(#hatch)"/>
<rect x="62.54" y="936.55" width="18.04" height="6.2" fill="url(#hatch)"/>
<rect x="80.57" y="936.45" width="18.04" height="6.4" fill="url(#hatch)"/>
<rect x="98.61" y="936.25" width="18.04" height="6.8" fill="url(#hatch)"/>
<rect x="116.65" y="936.05" width="18.04" height="7.2" fill="url(#hatch)"/>
<rect x="134.68" y="935.75" width="18.04" height="7.8" fill="url(#hatch)"/>
<rect x="152.72" y="935.45" width="18.04" height="8.4" fill="url(#hatch)"/>
<rect x="170.76" y="935.15" width="18.04" height="9" fill="url(#hatch)"/>
<rect x="188.79" y="934.75" width="18.04" height="9.8" fill="url(#hatch)"/>
<rect x="206.83" y="934.35" width="18.04" height="10.6" fill="url(#hatch)"/>
<rect x="224.87" y="933.85" width="18.04" height="11.6" fill="url(#hatch)"/>
<rect x="242.9" y="933.35" width="18.04" height="12.6" fill="url(#hatch)"/>
<rect x="260.94" y="932.75" width="18.04" height="13.8" fill="url(#hatch)"/>
<rect x="278.98" y="932.15" width="18.04" height="15" fill="url(#hatch)"/>
<rect x="297.01" y="931.65" width="18.04" height="16" fill="url(#hatch)"/>
<line x1="44.5" y1="938.45" x2="62.54" y2="938.45" stroke="#000" stroke-width="1.0" />
<line x1="53.52" y1="931.65" x2="53.52" y2="945.25" stroke="#000" stroke-width="1.1" />
<line x1="62.54" y1="944.55" x2="80.57" y2="944.55" stroke="#000" stroke-width="1.0" />
<line x1="71.56" y1="937.55" x2="71.56" y2="951.55" stroke="#000" stroke-width="1.1" />
<line x1="80.57" y1="938.45" x2="98.61" y2="938.45" stroke="#000" stroke-width="1.0" />
<line x1="89.59" y1="930.55" x2="89.59" y2="946.35" stroke="#000" stroke-width="1.1" />
<line x1="98.61" y1="943.95" x2="116.65" y2="943.95" stroke="#000" stroke-width="1.0" />
<line x1="107.63" y1="934.95" x2="107.63" y2="952.95" stroke="#000" stroke-width="1.1" />
<line x1="116.65" y1="918.65" x2="134.68" y2="918.65" stroke="#000" stroke-width="1.0" />
<line x1="125.67" y1="907.65" x2="125.67" y2="929.65" stroke="#000" stroke-width="1.1" />
<line x1="134.68" y1="941.45" x2="152.72" y2="941.45" stroke="#000" stroke-width="1.0" />
<line x1="143.7" y1="928.95" x2="143.7" y2="953.95" stroke="#000" stroke-width="1.1" />
<line x1="152.72" y1="943.55" x2="170.76" y2="943.55" stroke="#000" stroke-width="1.0" />
<line x1="161.74" y1="929.85" x2="161.74" y2="957.25" stroke="#000" stroke-width="1.1" />
<line x1="170.76" y1="939.85" x2="188.79" y2="939.85" stroke="#000" stroke-width="1.0" />
<line x1="179.78" y1="924.85" x2="179.78" y2="954.85" stroke="#000" stroke-width="1.1" />
<line x1="188.79" y1="952.65" x2="206.83" y2="952.65" stroke="#000" stroke-width="1.0" />
<line x1="197.81" y1="933.65" x2="197.81" y2="971.65" stroke="#000" stroke-width="1.1" />
<line x1="206.83" y1="931.25" x2="224.87" y2="931.25" stroke="#000" stroke-width="1.0" />
<line x1="215.85" y1="916.75" x2="215.85" y2="949.65" stroke="#000" stroke-width="1.1" />
<line x1="224.87" y1="955.75" x2="242.9" y2="955.75" stroke="#000" stroke-width="1.0" />
<line x1="233.88" y1="931.75" x2="233.88" y2="979.75" stroke="#000" stroke-width="1.1" />
<line x1="242.9" y1="956.15" x2="260.94" y2="956.15" stroke="#000" stroke-width="1.0" />
<line x1="251.92" y1="929.15" x2="251.92" y2="983.15" stroke="#000" stroke-width="1.1" />
<line x1="260.94" y1="956.15" x2="278.98" y2="956.15" stroke="#000" stroke-width="1.0" />
<line x1="269.96" y1="925.15" x2="269.96" y2="987.15" stroke="#000" stroke-width="1.1" />
<line x1="278.98" y1="969.65" x2="297.01" y2="969.65" stroke="#000" stroke-width="1.0" />
<line x1="288" y1="930.65" x2="288" y2="1008.65" stroke="#000" stroke-width="1.1" />
<line x1="297.01" y1="909.65" x2="315.05" y2="909.65" stroke="#000" stroke-width="1.0" />
<line x1="306.03" y1="886.15" x2="306.03" y2="933.15" stroke="#000" stroke-width="1.1" />
</g>
<circle cx="53.52" cy="938.45" r="2.5" fill="#000"/>
<circle cx="71.56" cy="944.55" r="2.5" fill="#000"/>
<circle cx="89.59" cy="938.45" r="2.5" fill="#000"/>
<circle cx="107.63" cy="943.95" r="2.5" fill="#000"/>
<circle cx="125.67" cy="918.65" r="2.5" fill="#000"/>
<circle cx="143.7" cy="941.45" r="2.5" fill="#000"/>
<circle cx="161.74" cy="943.55" r="2.5" fill="#000"/>
<circle cx="179.78" cy="939.85" r="2.5" fill="#000"/>
<circle cx="197.81" cy="952.65" r="2.5" fill="#000"/>
<circle cx="215.85" cy="931.25" r="2.5" fill="#000"/>
<circle cx="233.88" cy="955.75" r="2.5" fill="#000"/>
<circle cx="251.92" cy="956.15" r="2.5" fill="#000"/>
<circle cx="269.96" cy="956.15" r="2.5" fill="#000"/>
<rect x="44.5" y="917.1" width="270.55" height="45.1" fill="none" stroke="#000" stroke-width="1"/>
<path d="M51.26 962.2L51.26 959.3M51.26 917.1L51.26 920M58.03 962.2L58.03 959.3M58.03 917.1L58.03 920M64.79 962.2L64.79 959.3M64.79 917.1L64.79 920M71.56 962.2L71.56 956.4M71.56 917.1L71.56 922.9M78.32 962.2L78.32 959.3M78.32 917.1L78.32 920M85.08 962.2L85.08 959.3M85.08 917.1L85.08 920M91.85 962.2L91.85 959.3M91.85 917.1L91.85 920M98.61 962.2L98.61 956.4M98.61 917.1L98.61 922.9M105.37 962.2L105.37 959.3M105.37 917.1L105.37 920M112.14 962.2L112.14 959.3M112.14 917.1L112.14 920M118.9 962.2L118.9 959.3M118.9 917.1L118.9 920M125.67 962.2L125.67 956.4M125.67 917.1L125.67 922.9M132.43 962.2L132.43 959.3M132.43 917.1L132.43 920M139.19 962.2L139.19 959.3M139.19 917.1L139.19 920M145.96 962.2L145.96 959.3M145.96 917.1L145.96 920M152.72 962.2L152.72 956.4M152.72 917.1L152.72 922.9M159.48 962.2L159.48 959.3M159.48 917.1L159.48 920M166.25 962.2L166.25 959.3M166.25 917.1L166.25 920M173.01 962.2L173.01 959.3M173.01 917.1L173.01 920M179.78 962.2L179.78 956.4M179.78 917.1L179.78 922.9M186.54 962.2L186.54 959.3M186.54 917.1L186.54 920M193.3 962.2L193.3 959.3M193.3 917.1L193.3 920M200.07 962.2L200.07 959.3M200.07 917.1L200.07 920M206.83 962.2L206.83 956.4M206.83 917.1L206.83 922.9M213.59 962.2L213.59 959.3M213.59 917.1L213.59 920M220.36 962.2L220.36 959.3M220.36 917.1L220.36 920M227.12 962.2L227.12 959.3M227.12 917.1L227.12 920M233.89 962.2L233.89 956.4M233.89 917.1L233.89 922.9M240.65 962.2L240.65 959.3M240.65 917.1L240.65 920M247.41 962.2L247.41 959.3M247.41 917.1L247.41 920M254.18 962.2L254.18 959.3M254.18 917.1L254.18 920M260.94 962.2L260.94 956.4M260.94 917.1L260.94 922.9M267.7 962.2L267.7 959.3M267.7 917.1L267.7 920M274.47 962.2L274.47 959.3M274.47 917.1L274.47 920M281.23 962.2L281.23 959.3M281.23 917.1L281.23 920M288 962.2L288 956.4M288 917.1L288 922.9M294.76 962.2L294.76 959.3M294.76 917.1L294.76 920M301.52 962.2L301.52 959.3M301.52 917.1L301.52 920M308.29 962.2L308.29 959.3M308.29 917.1L308.29 920M44.5 957.69L50.7 957.69M315.05 957.69L308.85 957.69M44.5 953.18L47.7 953.18M315.05 953.18L311.85 953.18M44.5 948.67L47.7 948.67M315.05 948.67L311.85 948.67M44.5 944.16L47.7 944.16M315.05 944.16L311.85 944.16M44.5 939.65L50.7 939.65M315.05 939.65L308.85 939.65M44.5 935.14L47.7 935.14M315.05 935.14L311.85 935.14M44.5 930.63L47.7 930.63M315.05 930.63L311.85 930.63M44.5 926.12L47.7 926.12M315.05 926.12L311.85 926.12M44.5 921.61L50.7 921.61M315.05 921.61L308.85 921.61" fill="none" stroke="#000" stroke-width="0.9"/>
<text transform="translate(37.5 962.09) scale(0.91 1)" font-size="12.0" text-anchor="end">0.8</text>
<text transform="translate(38.5 944.05) scale(0.91 1)" font-size="12.0" text-anchor="end">1</text>
<text transform="translate(37.5 926.01) scale(0.91 1)" font-size="12.0" text-anchor="end">1.2</text>
<text x="43.9" y="976.8" font-size="11.4" text-anchor="middle" fill="#000" >−1</text>
<text x="70.96" y="976.8" font-size="11.4" text-anchor="middle" fill="#000" >−0.8</text>
<text x="98.01" y="976.8" font-size="11.4" text-anchor="middle" fill="#000" >−0.6</text>
<text x="125.07" y="976.8" font-size="11.4" text-anchor="middle" fill="#000" >−0.4</text>
<text x="152.12" y="976.8" font-size="11.4" text-anchor="middle" fill="#000" >−0.2</text>
<text x="179.18" y="976.8" font-size="11.4" text-anchor="middle" fill="#000" >0</text>
<text x="206.23" y="976.8" font-size="11.4" text-anchor="middle" fill="#000" >0.2</text>
<text x="233.29" y="976.8" font-size="11.4" text-anchor="middle" fill="#000" >0.4</text>
<text x="260.34" y="976.8" font-size="11.4" text-anchor="middle" fill="#000" >0.6</text>
<text x="287.39" y="976.8" font-size="11.4" text-anchor="middle" fill="#000" >0.8</text>
<text x="314.45" y="976.8" font-size="11.4" text-anchor="middle" fill="#000" >1</text>
<text x="314.85" y="990.6" font-size="11.7" text-anchor="end" fill="#000" >BDT<tspan font-size="7.9" font-style="italic" dy="2.9">VH</tspan><tspan dy="-2.9"> output</tspan></text>
<text transform="translate(13.3 680.5) rotate(-90) scale(0.92 1)" font-size="12.4" text-anchor="end">Events / 0.13</text>
<text transform="translate(16.2 916.5) rotate(-90) scale(0.895 1)" font-size="12.9" text-anchor="end">Data/Pred.</text>
<text x="57.9" y="700" font-size="11.8" font-weight="bold" font-style="italic" text-anchor="start" fill="#000" >ATLAS</text>
<text transform="translate(58.3 715.8) scale(0.62 1)" font-size="11.7">√</text>
<line x1="61.8" y1="707.15" x2="66.9" y2="707.15" stroke="#000" stroke-width="0.6" />
<text x="62" y="715.1" font-size="9.5" text-anchor="start" fill="#000" >s = 13 TeV, 139 fb<tspan font-size="6.3" dy="-4.1">-1</tspan></text>
<text x="57.9" y="728.8" font-size="9.1" font-weight="bold" font-style="italic" text-anchor="start" fill="#000" >2 leptons, 2 jets, 2 b-tags</text>
<text x="57.9" y="743.7" font-size="9.1" font-weight="bold" font-style="italic" text-anchor="start" fill="#000" >150 GeV</text>
<text x="99.5" y="743.7" font-size="9.6" text-anchor="start" fill="#000" style="font-family:'Liberation Serif',serif">≤</text>
<text x="121.7" y="743.7" font-size="9.1" font-weight="bold" font-style="italic" text-anchor="start" fill="#000" >&lt;</text>
<text x="129.4" y="743.7" font-size="9.1" font-weight="bold" font-style="italic" text-anchor="start" fill="#000" >250 GeV</text>
<text x="107.4" y="743.7" font-size="9.1" font-weight="bold" font-style="italic" text-anchor="start" fill="#000" >p</text>
<text x="113.9" y="740.3" font-size="6.5" font-weight="bold" font-style="italic" text-anchor="start" fill="#000" >V</text>
<text x="113.7" y="749.1" font-size="6.5" font-weight="bold" font-style="italic" text-anchor="start" fill="#000" >T</text>
<line x1="197.3" y1="693.4" x2="211.8" y2="693.4" stroke="#000" stroke-width="0.9" />
<circle cx="204.55" cy="693.4" r="2.5" fill="#000"/>
<text x="215" y="696" font-size="9.1" font-weight="bold" text-anchor="start" fill="#000" >Data</text>
<rect x="197.3" y="701.55" width="14.5" height="8.5" fill="#cc0000"/>
<text x="215" y="708.4" font-size="9.1" font-weight="bold" text-anchor="start" fill="#000" >VH, H</text>
<text x="239.9" y="708.7" font-size="14.2" text-anchor="start" fill="#222" >→</text>
<text x="254.2" y="708.4" font-size="9.1" font-weight="bold" text-anchor="start" fill="#000" >bb</text>
<line x1="260" y1="700.3" x2="265.1" y2="700.3" stroke="#000" stroke-width="0.7" />
<text x="268.1" y="708.4" font-size="9.1" font-weight="bold" text-anchor="start" fill="#000" >(<tspan font-weight="normal" style="font-family:'Liberation Serif',serif" font-size="10.8">μ</tspan>=1.02)</text>
<rect x="197.3" y="713.95" width="14.5" height="8.5" fill="#999999"/>
<text x="215" y="720.8" font-size="9.1" font-weight="bold" text-anchor="start" fill="#000" >Diboson</text>
<rect x="197.3" y="726.35" width="14.5" height="8.5" fill="#0066cc"/>
<text x="215" y="733.2" font-size="9.1" font-weight="bold" text-anchor="start" fill="#000" >Z+jets</text>
<rect x="197.3" y="738.75" width="14.5" height="8.5" fill="#ff9900"/>
<text x="215" y="745.6" font-size="9.1" font-weight="bold" text-anchor="start" fill="#000" >Top</text>
<rect x="197.3" y="751.2" width="14.5" height="8.4" fill="url(#hatch)" stroke="#000" stroke-width="0.6"/>
<text x="215" y="758" font-size="9.1" font-weight="bold" text-anchor="start" fill="#000" >Uncertainty</text>
<line x1="197.3" y1="767.8" x2="211.8" y2="767.8" stroke="#0000a0" stroke-width="1.7" stroke-dasharray="1.7 2.1"/>
<text x="215" y="770.4" font-size="9.1" font-weight="bold" text-anchor="start" fill="#000" >Pre-fit background</text>
<line x1="197.3" y1="780.2" x2="211.8" y2="780.2" stroke="#cc0000" stroke-width="1.6" />
<text x="215" y="782.8" font-size="9.1" font-weight="bold" text-anchor="start" fill="#000" >VH, H</text>
<text x="239.9" y="783.1" font-size="14.2" text-anchor="start" fill="#222" >→</text>
<text x="254.2" y="782.8" font-size="9.1" font-weight="bold" text-anchor="start" fill="#000" >bb</text>
<line x1="260" y1="774.7" x2="265.1" y2="774.7" stroke="#000" stroke-width="0.7" />
<text x="269.1" y="784.6" font-size="13.0" text-anchor="start" fill="#000" style="font-family:'Liberation Serif',serif">×</text>
<text x="277.6" y="782.8" font-size="9.1" font-weight="bold" text-anchor="start" fill="#000" >5</text>
<clipPath id="c345_667"><rect x="389.5" y="681.2" width="271" height="229.3"/></clipPath>
<clipPath id="c345_667r"><rect x="389.5" y="917.1" width="271" height="45.1"/></clipPath>
<g clip-path="url(#c345_667)">
<path d="M389.5 910.5 L389.5 794.8 L423.38 794.8 L423.38 795.8 L457.25 795.8 L457.25 808.1 L491.12 808.1 L491.12 827.9 L525 827.9 L525 840.4 L558.88 840.4 L558.88 854.7 L592.75 854.7 L592.75 859.2 L626.62 859.2 L626.62 864.3 L660.5 864.3 L660.5 910.5Z" fill="#cc0000" />
<path d="M389.5 910.5 L389.5 795.8 L423.38 795.8 L423.38 796.8 L457.25 796.8 L457.25 809.1 L491.12 809.1 L491.12 831.6 L525 831.6 L525 849 L558.88 849 L558.88 873.5 L592.75 873.5 L592.75 879.6 L626.62 879.6 L626.62 896 L660.5 896 L660.5 910.5Z" fill="#999999" />
<path d="M389.5 910.5 L389.5 803 L423.38 803 L423.38 805.6 L457.25 805.6 L457.25 815.6 L491.12 815.6 L491.12 833.6 L525 833.6 L525 850 L558.88 850 L558.88 874.9 L592.75 874.9 L592.75 881.2 L626.62 881.2 L626.62 897.4 L660.5 897.4 L660.5 910.5Z" fill="#0066cc" />
<path d="M389.5 910.5 L389.5 910.5 L423.38 910.5 L423.38 905.6 L457.25 905.6 L457.25 910.5 L491.12 910.5 L491.12 910.5 L525 910.5 L525 910.5 L558.88 910.5 L558.88 910.5 L592.75 910.5 L592.75 910.5 L626.62 910.5 L626.62 910.5 L660.5 910.5 L660.5 910.5Z" fill="#ff9900" />
<rect x="389.5" y="793.3" width="33.88" height="3" fill="url(#hatch)"/>
<rect x="423.38" y="794.3" width="33.88" height="3" fill="url(#hatch)"/>
<rect x="457.25" y="806.5" width="33.88" height="3.2" fill="url(#hatch)"/>
<rect x="491.12" y="826.1" width="33.88" height="3.6" fill="url(#hatch)"/>
<rect x="525" y="837.9" width="33.88" height="5" fill="url(#hatch)"/>
<rect x="558.88" y="851.3" width="33.88" height="6.8" fill="url(#hatch)"/>
<rect x="592.75" y="855.6" width="33.88" height="7.2" fill="url(#hatch)"/>
<rect x="626.62" y="860.3" width="33.88" height="8" fill="url(#hatch)"/>
<path d="M389.5 795.4 L423.38 795.4 L423.38 796.8 L457.25 796.8 L457.25 811.5 L491.12 811.5 L491.12 833.2 L525 833.2 L525 851.4 L558.88 851.4 L558.88 876.1 L592.75 876.1 L592.75 881.6 L626.62 881.6 L626.62 899 L660.5 899" fill="none" stroke="#0000a0" stroke-width="2.0" stroke-linejoin="miter" stroke-linecap="butt" stroke-dasharray="1.9 1.76"/>
</g>
<clipPath id="c345_667s"><rect x="389.5" y="681.2" width="271" height="230.8"/></clipPath>
<g clip-path="url(#c345_667s)">
<path d="M389.5 910.4 L423.38 910.4 L423.38 910.4 L457.25 910.4 L457.25 889.8 L491.12 889.8 L491.12 872.4 L525 872.4 L525 868 L558.88 868 L558.88 862 L592.75 862 L592.75 860 L626.62 860 L626.62 868 L660.5 868" fill="none" stroke="#cc0000" stroke-width="2.0" stroke-linejoin="miter" stroke-linecap="butt"/>
</g>
<rect x="389.5" y="681.2" width="271" height="229.3" fill="none" stroke="#000" stroke-width="1"/>
<text x="389.7" y="911.2" font-size="11.6" text-anchor="end" fill="#000" >1</text>
<text x="386.4" y="837.05" font-size="11.0" text-anchor="end" fill="#000" >10</text>
<text x="382.5" y="764.2" font-size="10.9" text-anchor="end" fill="#000" >10</text>
<text x="386.5" y="758.9" font-size="8.0" text-anchor="end" fill="#000" >2</text>
<text x="382.5" y="690.15" font-size="10.9" text-anchor="end" fill="#000" >10</text>
<text x="386.5" y="684.85" font-size="8.0" text-anchor="end" fill="#000" >3</text>
<path d="M396.27 910.5L396.27 907.4M396.27 681.2L396.27 684.3M403.05 910.5L403.05 907.4M403.05 681.2L403.05 684.3M409.82 910.5L409.82 907.4M409.82 681.2L409.82 684.3M416.6 910.5L416.6 904.6M416.6 681.2L416.6 687.1M423.38 910.5L423.38 907.4M423.38 681.2L423.38 684.3M430.15 910.5L430.15 907.4M430.15 681.2L430.15 684.3M436.93 910.5L436.93 907.4M436.93 681.2L436.93 684.3M443.7 910.5L443.7 904.6M443.7 681.2L443.7 687.1M450.48 910.5L450.48 907.4M450.48 681.2L450.48 684.3M457.25 910.5L457.25 907.4M457.25 681.2L457.25 684.3M464.02 910.5L464.02 907.4M464.02 681.2L464.02 684.3M470.8 910.5L470.8 904.6M470.8 681.2L470.8 687.1M477.57 910.5L477.57 907.4M477.57 681.2L477.57 684.3M484.35 910.5L484.35 907.4M484.35 681.2L484.35 684.3M491.12 910.5L491.12 907.4M491.12 681.2L491.12 684.3M497.9 910.5L497.9 904.6M497.9 681.2L497.9 687.1M504.68 910.5L504.68 907.4M504.68 681.2L504.68 684.3M511.45 910.5L511.45 907.4M511.45 681.2L511.45 684.3M518.23 910.5L518.23 907.4M518.23 681.2L518.23 684.3M525 910.5L525 904.6M525 681.2L525 687.1M531.77 910.5L531.77 907.4M531.77 681.2L531.77 684.3M538.55 910.5L538.55 907.4M538.55 681.2L538.55 684.3M545.33 910.5L545.33 907.4M545.33 681.2L545.33 684.3M552.1 910.5L552.1 904.6M552.1 681.2L552.1 687.1M558.88 910.5L558.88 907.4M558.88 681.2L558.88 684.3M565.65 910.5L565.65 907.4M565.65 681.2L565.65 684.3M572.42 910.5L572.42 907.4M572.42 681.2L572.42 684.3M579.2 910.5L579.2 904.6M579.2 681.2L579.2 687.1M585.98 910.5L585.98 907.4M585.98 681.2L585.98 684.3M592.75 910.5L592.75 907.4M592.75 681.2L592.75 684.3M599.52 910.5L599.52 907.4M599.52 681.2L599.52 684.3M606.3 910.5L606.3 904.6M606.3 681.2L606.3 687.1M613.08 910.5L613.08 907.4M613.08 681.2L613.08 684.3M619.85 910.5L619.85 907.4M619.85 681.2L619.85 684.3M626.62 910.5L626.62 907.4M626.62 681.2L626.62 684.3M633.4 910.5L633.4 904.6M633.4 681.2L633.4 687.1M640.17 910.5L640.17 907.4M640.17 681.2L640.17 684.3M646.95 910.5L646.95 907.4M646.95 681.2L646.95 684.3M653.73 910.5L653.73 907.4M653.73 681.2L653.73 684.3M389.5 909.89L394.5 909.89M660.5 909.89L655.5 909.89M389.5 906.5L399.5 906.5M660.5 906.5L650.5 906.5M389.5 884.21L394.5 884.21M660.5 884.21L655.5 884.21M389.5 871.17L394.5 871.17M660.5 871.17L655.5 871.17M389.5 861.92L394.5 861.92M660.5 861.92L655.5 861.92M389.5 854.74L394.5 854.74M660.5 854.74L655.5 854.74M389.5 848.88L394.5 848.88M660.5 848.88L655.5 848.88M389.5 843.92L394.5 843.92M660.5 843.92L655.5 843.92M389.5 839.63L394.5 839.63M660.5 839.63L655.5 839.63M389.5 835.84L394.5 835.84M660.5 835.84L655.5 835.84M389.5 832.45L399.5 832.45M660.5 832.45L650.5 832.45M389.5 810.16L394.5 810.16M660.5 810.16L655.5 810.16M389.5 797.12L394.5 797.12M660.5 797.12L655.5 797.12M389.5 787.87L394.5 787.87M660.5 787.87L655.5 787.87M389.5 780.69L394.5 780.69M660.5 780.69L655.5 780.69M389.5 774.83L394.5 774.83M660.5 774.83L655.5 774.83M389.5 769.87L394.5 769.87M660.5 769.87L655.5 769.87M389.5 765.58L394.5 765.58M660.5 765.58L655.5 765.58M389.5 761.79L394.5 761.79M660.5 761.79L655.5 761.79M389.5 758.4L399.5 758.4M660.5 758.4L650.5 758.4M389.5 736.11L394.5 736.11M660.5 736.11L655.5 736.11M389.5 723.07L394.5 723.07M660.5 723.07L655.5 723.07M389.5 713.82L394.5 713.82M660.5 713.82L655.5 713.82M389.5 706.64L394.5 706.64M660.5 706.64L655.5 706.64M389.5 700.78L394.5 700.78M660.5 700.78L655.5 700.78M389.5 695.82L394.5 695.82M660.5 695.82L655.5 695.82M389.5 691.53L394.5 691.53M660.5 691.53L655.5 691.53M389.5 687.74L394.5 687.74M660.5 687.74L655.5 687.74M389.5 684.35L399.5 684.35M660.5 684.35L650.5 684.35" fill="none" stroke="#000" stroke-width="1.0"/>
<g clip-path="url(#c345_667)">
<line x1="389.5" y1="794.8" x2="423.38" y2="794.8" stroke="#000" stroke-width="1.0" />
<line x1="406.44" y1="788.8" x2="406.44" y2="800.8" stroke="#000" stroke-width="1.1" />
<circle cx="406.44" cy="794.8" r="2.5" fill="#000"/>
<line x1="423.38" y1="796.2" x2="457.25" y2="796.2" stroke="#000" stroke-width="1.0" />
<line x1="440.31" y1="790.2" x2="440.31" y2="802.2" stroke="#000" stroke-width="1.1" />
<circle cx="440.31" cy="796.2" r="2.5" fill="#000"/>
<line x1="457.25" y1="801.5" x2="491.12" y2="801.5" stroke="#000" stroke-width="1.0" />
<line x1="474.19" y1="794.5" x2="474.19" y2="808.5" stroke="#000" stroke-width="1.1" />
<circle cx="474.19" cy="801.5" r="2.5" fill="#000"/>
<line x1="491.12" y1="817.3" x2="525" y2="817.3" stroke="#000" stroke-width="1.0" />
<line x1="508.06" y1="808.3" x2="508.06" y2="826.3" stroke="#000" stroke-width="1.1" />
<circle cx="508.06" cy="817.3" r="2.5" fill="#000"/>
<line x1="525" y1="854.1" x2="558.88" y2="854.1" stroke="#000" stroke-width="1.0" />
<line x1="541.94" y1="838.7" x2="541.94" y2="872.4" stroke="#000" stroke-width="1.1" />
<circle cx="541.94" cy="854.1" r="2.5" fill="#000"/>
<line x1="558.88" y1="854.1" x2="592.75" y2="854.1" stroke="#000" stroke-width="1.0" />
<line x1="575.81" y1="838.3" x2="575.81" y2="872.4" stroke="#000" stroke-width="1.1" />
<circle cx="575.81" cy="854.1" r="2.5" fill="#000"/>
<line x1="592.75" y1="884.1" x2="626.62" y2="884.1" stroke="#000" stroke-width="1.0" />
<line x1="609.69" y1="856.1" x2="609.69" y2="914.1" stroke="#000" stroke-width="1.1" />
<circle cx="609.69" cy="884.1" r="2.5" fill="#000"/>
<line x1="626.62" y1="848.5" x2="660.5" y2="848.5" stroke="#000" stroke-width="1.0" />
<line x1="643.56" y1="833.6" x2="643.56" y2="864.3" stroke="#000" stroke-width="1.1" />
<circle cx="643.56" cy="848.5" r="2.5" fill="#000"/>
</g>
<g clip-path="url(#c345_667r)">
<rect x="389.5" y="937.65" width="33.88" height="4" fill="url(#hatch)"/>
<rect x="423.38" y="937.65" width="33.88" height="4" fill="url(#hatch)"/>
<rect x="457.25" y="937.55" width="33.88" height="4.2" fill="url(#hatch)"/>
<rect x="491.12" y="937.35" width="33.88" height="4.6" fill="url(#hatch)"/>
<rect x="525" y="937.05" width="33.88" height="5.2" fill="url(#hatch)"/>
<rect x="558.88" y="936.65" width="33.88" height="6" fill="url(#hatch)"/>
<rect x="592.75" y="936.15" width="33.88" height="7" fill="url(#hatch)"/>
<rect x="626.62" y="935.65" width="33.88" height="8" fill="url(#hatch)"/>
<line x1="389.5" y1="939.65" x2="423.38" y2="939.65" stroke="#000" stroke-width="1.0" />
<line x1="406.44" y1="932.65" x2="406.44" y2="946.65" stroke="#000" stroke-width="1.1" />
<line x1="423.38" y1="938.85" x2="457.25" y2="938.85" stroke="#000" stroke-width="1.0" />
<line x1="440.31" y1="931.85" x2="440.31" y2="945.85" stroke="#000" stroke-width="1.1" />
<line x1="457.25" y1="931.25" x2="491.12" y2="931.25" stroke="#000" stroke-width="1.0" />
<line x1="474.19" y1="921.85" x2="474.19" y2="940.65" stroke="#000" stroke-width="1.1" />
<line x1="491.12" y1="924.75" x2="525" y2="924.75" stroke="#000" stroke-width="1.0" />
<line x1="508.06" y1="912.05" x2="508.06" y2="937.45" stroke="#000" stroke-width="1.1" />
<line x1="525" y1="952.35" x2="558.88" y2="952.35" stroke="#000" stroke-width="1.0" />
<line x1="541.94" y1="936.35" x2="541.94" y2="968.35" stroke="#000" stroke-width="1.1" />
<line x1="558.88" y1="936.95" x2="592.75" y2="936.95" stroke="#000" stroke-width="1.0" />
<line x1="575.81" y1="918.95" x2="575.81" y2="954.95" stroke="#000" stroke-width="1.1" />
<line x1="592.75" y1="959.85" x2="626.62" y2="959.85" stroke="#000" stroke-width="1.0" />
<line x1="609.69" y1="937.35" x2="609.69" y2="982.35" stroke="#000" stroke-width="1.1" />
<line x1="626.62" y1="909.65" x2="660.5" y2="909.65" stroke="#000" stroke-width="1.0" />
<line x1="643.56" y1="883.65" x2="643.56" y2="935.65" stroke="#000" stroke-width="1.1" />
</g>
<circle cx="406.44" cy="939.65" r="2.5" fill="#000"/>
<circle cx="440.31" cy="938.85" r="2.5" fill="#000"/>
<circle cx="474.19" cy="931.25" r="2.5" fill="#000"/>
<circle cx="508.06" cy="924.75" r="2.5" fill="#000"/>
<circle cx="541.94" cy="952.35" r="2.5" fill="#000"/>
<circle cx="575.81" cy="936.95" r="2.5" fill="#000"/>
<circle cx="609.69" cy="959.85" r="2.5" fill="#000"/>
<rect x="389.5" y="917.1" width="271" height="45.1" fill="none" stroke="#000" stroke-width="1"/>
<path d="M396.27 962.2L396.27 959.3M396.27 917.1L396.27 920M403.05 962.2L403.05 959.3M403.05 917.1L403.05 920M409.82 962.2L409.82 959.3M409.82 917.1L409.82 920M416.6 962.2L416.6 956.4M416.6 917.1L416.6 922.9M423.38 962.2L423.38 959.3M423.38 917.1L423.38 920M430.15 962.2L430.15 959.3M430.15 917.1L430.15 920M436.93 962.2L436.93 959.3M436.93 917.1L436.93 920M443.7 962.2L443.7 956.4M443.7 917.1L443.7 922.9M450.48 962.2L450.48 959.3M450.48 917.1L450.48 920M457.25 962.2L457.25 959.3M457.25 917.1L457.25 920M464.02 962.2L464.02 959.3M464.02 917.1L464.02 920M470.8 962.2L470.8 956.4M470.8 917.1L470.8 922.9M477.57 962.2L477.57 959.3M477.57 917.1L477.57 920M484.35 962.2L484.35 959.3M484.35 917.1L484.35 920M491.12 962.2L491.12 959.3M491.12 917.1L491.12 920M497.9 962.2L497.9 956.4M497.9 917.1L497.9 922.9M504.68 962.2L504.68 959.3M504.68 917.1L504.68 920M511.45 962.2L511.45 959.3M511.45 917.1L511.45 920M518.23 962.2L518.23 959.3M518.23 917.1L518.23 920M525 962.2L525 956.4M525 917.1L525 922.9M531.77 962.2L531.77 959.3M531.77 917.1L531.77 920M538.55 962.2L538.55 959.3M538.55 917.1L538.55 920M545.33 962.2L545.33 959.3M545.33 917.1L545.33 920M552.1 962.2L552.1 956.4M552.1 917.1L552.1 922.9M558.88 962.2L558.88 959.3M558.88 917.1L558.88 920M565.65 962.2L565.65 959.3M565.65 917.1L565.65 920M572.42 962.2L572.42 959.3M572.42 917.1L572.42 920M579.2 962.2L579.2 956.4M579.2 917.1L579.2 922.9M585.98 962.2L585.98 959.3M585.98 917.1L585.98 920M592.75 962.2L592.75 959.3M592.75 917.1L592.75 920M599.52 962.2L599.52 959.3M599.52 917.1L599.52 920M606.3 962.2L606.3 956.4M606.3 917.1L606.3 922.9M613.08 962.2L613.08 959.3M613.08 917.1L613.08 920M619.85 962.2L619.85 959.3M619.85 917.1L619.85 920M626.62 962.2L626.62 959.3M626.62 917.1L626.62 920M633.4 962.2L633.4 956.4M633.4 917.1L633.4 922.9M640.17 962.2L640.17 959.3M640.17 917.1L640.17 920M646.95 962.2L646.95 959.3M646.95 917.1L646.95 920M653.73 962.2L653.73 959.3M653.73 917.1L653.73 920M389.5 958.44L395.7 958.44M660.5 958.44L654.3 958.44M389.5 954.68L392.7 954.68M660.5 954.68L657.3 954.68M389.5 950.93L392.7 950.93M660.5 950.93L657.3 950.93M389.5 947.17L392.7 947.17M660.5 947.17L657.3 947.17M389.5 943.41L392.7 943.41M660.5 943.41L657.3 943.41M389.5 939.65L395.7 939.65M660.5 939.65L654.3 939.65M389.5 935.89L392.7 935.89M660.5 935.89L657.3 935.89M389.5 932.13L392.7 932.13M660.5 932.13L657.3 932.13M389.5 928.38L392.7 928.38M660.5 928.38L657.3 928.38M389.5 924.62L392.7 924.62M660.5 924.62L657.3 924.62M389.5 920.86L395.7 920.86M660.5 920.86L654.3 920.86" fill="none" stroke="#000" stroke-width="0.9"/>
<text transform="translate(382.5 962.84) scale(0.91 1)" font-size="12.0" text-anchor="end">0.5</text>
<text transform="translate(383.5 944.05) scale(0.91 1)" font-size="12.0" text-anchor="end">1</text>
<text transform="translate(382.5 925.26) scale(0.91 1)" font-size="12.0" text-anchor="end">1.5</text>
<text x="388.9" y="976.8" font-size="11.4" text-anchor="middle" fill="#000" >−1</text>
<text x="416" y="976.8" font-size="11.4" text-anchor="middle" fill="#000" >−0.8</text>
<text x="443.1" y="976.8" font-size="11.4" text-anchor="middle" fill="#000" >−0.6</text>
<text x="470.2" y="976.8" font-size="11.4" text-anchor="middle" fill="#000" >−0.4</text>
<text x="497.3" y="976.8" font-size="11.4" text-anchor="middle" fill="#000" >−0.2</text>
<text x="524.4" y="976.8" font-size="11.4" text-anchor="middle" fill="#000" >0</text>
<text x="551.5" y="976.8" font-size="11.4" text-anchor="middle" fill="#000" >0.2</text>
<text x="578.6" y="976.8" font-size="11.4" text-anchor="middle" fill="#000" >0.4</text>
<text x="605.7" y="976.8" font-size="11.4" text-anchor="middle" fill="#000" >0.6</text>
<text x="632.8" y="976.8" font-size="11.4" text-anchor="middle" fill="#000" >0.8</text>
<text x="659.9" y="976.8" font-size="11.4" text-anchor="middle" fill="#000" >1</text>
<text x="660.3" y="990.6" font-size="11.7" text-anchor="end" fill="#000" >BDT<tspan font-size="7.9" font-style="italic" dy="2.9">VH</tspan><tspan dy="-2.9"> output</tspan></text>
<text transform="translate(358.3 680.5) rotate(-90) scale(0.92 1)" font-size="12.4" text-anchor="end">Events / 0.25</text>
<text transform="translate(361.2 916.5) rotate(-90) scale(0.895 1)" font-size="12.9" text-anchor="end">Data/Pred.</text>
<text x="402.9" y="700" font-size="11.8" font-weight="bold" font-style="italic" text-anchor="start" fill="#000" >ATLAS</text>
<text transform="translate(403.3 715.8) scale(0.62 1)" font-size="11.7">√</text>
<line x1="406.8" y1="707.15" x2="411.9" y2="707.15" stroke="#000" stroke-width="0.6" />
<text x="407" y="715.1" font-size="9.5" text-anchor="start" fill="#000" >s = 13 TeV, 139 fb<tspan font-size="6.3" dy="-4.1">-1</tspan></text>
<text x="402.9" y="728.8" font-size="9.1" font-weight="bold" font-style="italic" text-anchor="start" fill="#000" >2 leptons, 2 jets, 2 b-tags</text>
<text x="418.5" y="743.7" font-size="9.6" text-anchor="start" fill="#000" style="font-family:'Liberation Serif',serif">≥</text>
<text x="426.8" y="743.7" font-size="9.1" font-weight="bold" font-style="italic" text-anchor="start" fill="#000" >250 GeV</text>
<text x="402.9" y="743.7" font-size="9.1" font-weight="bold" font-style="italic" text-anchor="start" fill="#000" >p</text>
<text x="409.4" y="740.3" font-size="6.5" font-weight="bold" font-style="italic" text-anchor="start" fill="#000" >V</text>
<text x="409.2" y="749.1" font-size="6.5" font-weight="bold" font-style="italic" text-anchor="start" fill="#000" >T</text>
<line x1="542.3" y1="693.4" x2="556.8" y2="693.4" stroke="#000" stroke-width="0.9" />
<circle cx="549.55" cy="693.4" r="2.5" fill="#000"/>
<text x="560" y="696" font-size="9.1" font-weight="bold" text-anchor="start" fill="#000" >Data</text>
<rect x="542.3" y="701.55" width="14.5" height="8.5" fill="#cc0000"/>
<text x="560" y="708.4" font-size="9.1" font-weight="bold" text-anchor="start" fill="#000" >VH, H</text>
<text x="584.9" y="708.7" font-size="14.2" text-anchor="start" fill="#222" >→</text>
<text x="599.2" y="708.4" font-size="9.1" font-weight="bold" text-anchor="start" fill="#000" >bb</text>
<line x1="605" y1="700.3" x2="610.1" y2="700.3" stroke="#000" stroke-width="0.7" />
<text x="613.1" y="708.4" font-size="9.1" font-weight="bold" text-anchor="start" fill="#000" >(<tspan font-weight="normal" style="font-family:'Liberation Serif',serif" font-size="10.8">μ</tspan>=1.02)</text>
<rect x="542.3" y="713.95" width="14.5" height="8.5" fill="#999999"/>
<text x="560" y="720.8" font-size="9.1" font-weight="bold" text-anchor="start" fill="#000" >Diboson</text>
<rect x="542.3" y="726.35" width="14.5" height="8.5" fill="#0066cc"/>
<text x="560" y="733.2" font-size="9.1" font-weight="bold" text-anchor="start" fill="#000" >Z+jets</text>
<rect x="542.3" y="738.75" width="14.5" height="8.5" fill="#ff9900"/>
<text x="560" y="745.6" font-size="9.1" font-weight="bold" text-anchor="start" fill="#000" >Top</text>
<rect x="542.3" y="751.2" width="14.5" height="8.4" fill="url(#hatch)" stroke="#000" stroke-width="0.6"/>
<text x="560" y="758" font-size="9.1" font-weight="bold" text-anchor="start" fill="#000" >Uncertainty</text>
<line x1="542.3" y1="767.8" x2="556.8" y2="767.8" stroke="#0000a0" stroke-width="1.7" stroke-dasharray="1.7 2.1"/>
<text x="560" y="770.4" font-size="9.1" font-weight="bold" text-anchor="start" fill="#000" >Pre-fit background</text>
<line x1="542.3" y1="780.2" x2="556.8" y2="780.2" stroke="#cc0000" stroke-width="1.6" />
<text x="560" y="782.8" font-size="9.1" font-weight="bold" text-anchor="start" fill="#000" >VH, H</text>
<text x="584.9" y="783.1" font-size="14.2" text-anchor="start" fill="#222" >→</text>
<text x="599.2" y="782.8" font-size="9.1" font-weight="bold" text-anchor="start" fill="#000" >bb</text>
<line x1="605" y1="774.7" x2="610.1" y2="774.7" stroke="#000" stroke-width="0.7" />
<text x="614.1" y="784.6" font-size="13.0" text-anchor="start" fill="#000" style="font-family:'Liberation Serif',serif">×</text>
<text x="622.6" y="782.8" font-size="9.1" font-weight="bold" text-anchor="start" fill="#000" >2</text>
</svg></body></html>
